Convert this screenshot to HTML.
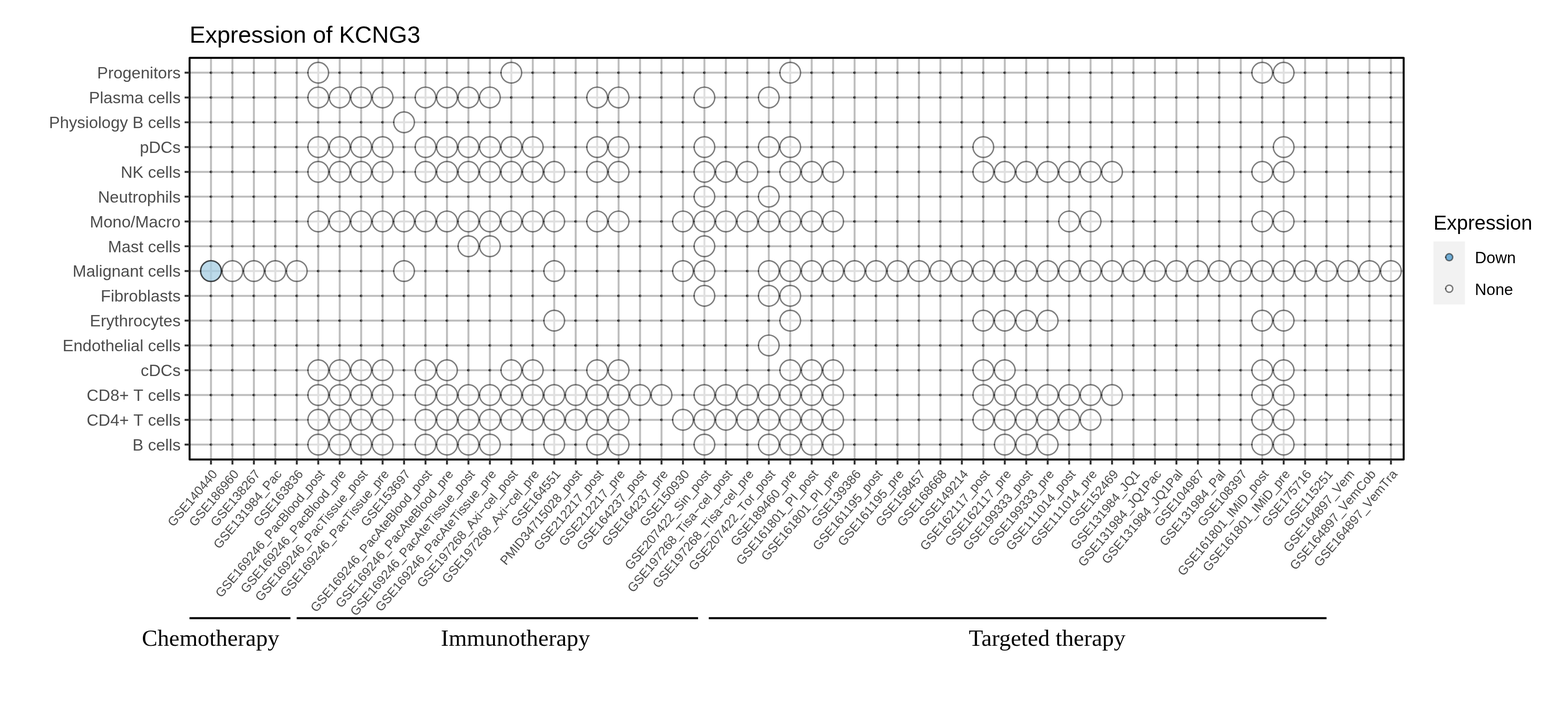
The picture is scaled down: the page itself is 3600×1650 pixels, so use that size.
<!DOCTYPE html>
<html lang="en"><head><meta charset="utf-8"><title>Expression of KCNG3</title>
<style>
html,body{margin:0;padding:0;background:#fff;}
body{width:3600px;height:1650px;overflow:hidden;}
svg{display:block;}
text{font-family:"Liberation Sans",sans-serif;font-kerning:none;}
.ser{font-family:"Liberation Serif",serif;font-size:53.6px;fill:#000;text-anchor:middle;font-kerning:normal;}
.ttl{font-size:54.17px;fill:#000;}
.yl{font-size:37.5px;fill:#4d4d4d;text-anchor:end;}
.xl{font-size:29.17px;fill:#4d4d4d;text-anchor:end;}
.lt{font-size:45.83px;fill:#000;}
.ll{font-size:36.67px;fill:#000;}
.g{stroke:#bebebe;stroke-width:4.45;fill:none;}
.tk{stroke:#333;stroke-width:4.45;fill:none;}
.b{fill:#fff;fill-opacity:.5;stroke:#000;stroke-opacity:0.5;stroke-width:3.2;}
.s{fill:#000;fill-opacity:0.5;}
.k{fill:#000;fill-opacity:0.55;}
</style></head><body>
<svg width="3600" height="1650" viewBox="0 0 3600 1650">
<rect width="3600" height="1650" fill="#fff"/>
<text class="ttl" x="435.3" y="98.2">Expression of KCNG3</text>
<g class="g">
<path d="M435.3 166.8H3222.7M435.3 223.7H3222.7M435.3 280.6H3222.7M435.3 337.5H3222.7M435.3 394.4H3222.7M435.3 451.3H3222.7M435.3 508.2H3222.7M435.3 565.1H3222.7M435.3 622H3222.7M435.3 678.9H3222.7M435.3 735.8H3222.7M435.3 792.7H3222.7M435.3 849.6H3222.7M435.3 906.5H3222.7M435.3 963.4H3222.7M435.3 1020.3H3222.7"/>
<path d="M484.4 132.75V1054.6M533.66 132.75V1054.6M582.91 132.75V1054.6M632.17 132.75V1054.6M681.43 132.75V1054.6M730.68 132.75V1054.6M779.94 132.75V1054.6M829.19 132.75V1054.6M878.45 132.75V1054.6M927.71 132.75V1054.6M976.96 132.75V1054.6M1026.22 132.75V1054.6M1075.48 132.75V1054.6M1124.73 132.75V1054.6M1173.99 132.75V1054.6M1223.25 132.75V1054.6M1272.5 132.75V1054.6M1321.76 132.75V1054.6M1371.01 132.75V1054.6M1420.27 132.75V1054.6M1469.53 132.75V1054.6M1518.78 132.75V1054.6M1568.04 132.75V1054.6M1617.3 132.75V1054.6M1666.55 132.75V1054.6M1715.81 132.75V1054.6M1765.07 132.75V1054.6M1814.32 132.75V1054.6M1863.58 132.75V1054.6M1912.83 132.75V1054.6M1962.09 132.75V1054.6M2011.35 132.75V1054.6M2060.6 132.75V1054.6M2109.86 132.75V1054.6M2159.12 132.75V1054.6M2208.37 132.75V1054.6M2257.63 132.75V1054.6M2306.89 132.75V1054.6M2356.14 132.75V1054.6M2405.4 132.75V1054.6M2454.65 132.75V1054.6M2503.91 132.75V1054.6M2553.17 132.75V1054.6M2602.42 132.75V1054.6M2651.68 132.75V1054.6M2700.94 132.75V1054.6M2750.19 132.75V1054.6M2799.45 132.75V1054.6M2848.71 132.75V1054.6M2897.96 132.75V1054.6M2947.22 132.75V1054.6M2996.47 132.75V1054.6M3045.73 132.75V1054.6M3094.99 132.75V1054.6M3144.24 132.75V1054.6M3193.5 132.75V1054.6"/>
</g>
<g>
<circle class="s" cx="484.4" cy="166.8" r="3.1"/>
<circle class="k" cx="482.92" cy="166.8" r="1.9"/>
<circle class="s" cx="533.66" cy="166.8" r="3.1"/>
<circle class="k" cx="532.18" cy="166.8" r="1.9"/>
<circle class="s" cx="582.91" cy="166.8" r="3.1"/>
<circle class="k" cx="581.43" cy="166.8" r="1.9"/>
<circle class="s" cx="632.17" cy="166.8" r="3.1"/>
<circle class="k" cx="630.69" cy="166.8" r="1.9"/>
<circle class="s" cx="681.43" cy="166.8" r="3.1"/>
<circle class="k" cx="679.95" cy="166.8" r="1.9"/>
<circle class="b" cx="730.68" cy="166.8" r="23.7"/>
<circle class="k" cx="706.98" cy="166.8" r="1.6"/>
<circle class="s" cx="779.94" cy="166.8" r="3.1"/>
<circle class="k" cx="778.46" cy="166.8" r="1.9"/>
<circle class="s" cx="829.19" cy="166.8" r="3.1"/>
<circle class="k" cx="827.71" cy="166.8" r="1.9"/>
<circle class="s" cx="878.45" cy="166.8" r="3.1"/>
<circle class="k" cx="876.97" cy="166.8" r="1.9"/>
<circle class="s" cx="927.71" cy="166.8" r="3.1"/>
<circle class="k" cx="926.23" cy="166.8" r="1.9"/>
<circle class="s" cx="976.96" cy="166.8" r="3.1"/>
<circle class="k" cx="975.48" cy="166.8" r="1.9"/>
<circle class="s" cx="1026.22" cy="166.8" r="3.1"/>
<circle class="k" cx="1024.74" cy="166.8" r="1.9"/>
<circle class="s" cx="1075.48" cy="166.8" r="3.1"/>
<circle class="k" cx="1074" cy="166.8" r="1.9"/>
<circle class="s" cx="1124.73" cy="166.8" r="3.1"/>
<circle class="k" cx="1123.25" cy="166.8" r="1.9"/>
<circle class="b" cx="1173.99" cy="166.8" r="23.7"/>
<circle class="k" cx="1150.29" cy="166.8" r="1.6"/>
<circle class="s" cx="1223.25" cy="166.8" r="3.1"/>
<circle class="k" cx="1221.77" cy="166.8" r="1.9"/>
<circle class="s" cx="1272.5" cy="166.8" r="3.1"/>
<circle class="k" cx="1271.02" cy="166.8" r="1.9"/>
<circle class="s" cx="1321.76" cy="166.8" r="3.1"/>
<circle class="k" cx="1320.28" cy="166.8" r="1.9"/>
<circle class="s" cx="1371.01" cy="166.8" r="3.1"/>
<circle class="k" cx="1369.53" cy="166.8" r="1.9"/>
<circle class="s" cx="1420.27" cy="166.8" r="3.1"/>
<circle class="k" cx="1418.79" cy="166.8" r="1.9"/>
<circle class="s" cx="1469.53" cy="166.8" r="3.1"/>
<circle class="k" cx="1468.05" cy="166.8" r="1.9"/>
<circle class="s" cx="1518.78" cy="166.8" r="3.1"/>
<circle class="k" cx="1517.3" cy="166.8" r="1.9"/>
<circle class="s" cx="1568.04" cy="166.8" r="3.1"/>
<circle class="k" cx="1566.56" cy="166.8" r="1.9"/>
<circle class="s" cx="1617.3" cy="166.8" r="3.1"/>
<circle class="k" cx="1615.82" cy="166.8" r="1.9"/>
<circle class="s" cx="1666.55" cy="166.8" r="3.1"/>
<circle class="k" cx="1665.07" cy="166.8" r="1.9"/>
<circle class="s" cx="1715.81" cy="166.8" r="3.1"/>
<circle class="k" cx="1714.33" cy="166.8" r="1.9"/>
<circle class="s" cx="1765.07" cy="166.8" r="3.1"/>
<circle class="k" cx="1763.59" cy="166.8" r="1.9"/>
<circle class="b" cx="1814.32" cy="166.8" r="23.7"/>
<circle class="k" cx="1790.62" cy="166.8" r="1.6"/>
<circle class="s" cx="1863.58" cy="166.8" r="3.1"/>
<circle class="k" cx="1862.1" cy="166.8" r="1.9"/>
<circle class="s" cx="1912.83" cy="166.8" r="3.1"/>
<circle class="k" cx="1911.35" cy="166.8" r="1.9"/>
<circle class="s" cx="1962.09" cy="166.8" r="3.1"/>
<circle class="k" cx="1960.61" cy="166.8" r="1.9"/>
<circle class="s" cx="2011.35" cy="166.8" r="3.1"/>
<circle class="k" cx="2009.87" cy="166.8" r="1.9"/>
<circle class="s" cx="2060.6" cy="166.8" r="3.1"/>
<circle class="k" cx="2059.12" cy="166.8" r="1.9"/>
<circle class="s" cx="2109.86" cy="166.8" r="3.1"/>
<circle class="k" cx="2108.38" cy="166.8" r="1.9"/>
<circle class="s" cx="2159.12" cy="166.8" r="3.1"/>
<circle class="k" cx="2157.64" cy="166.8" r="1.9"/>
<circle class="s" cx="2208.37" cy="166.8" r="3.1"/>
<circle class="k" cx="2206.89" cy="166.8" r="1.9"/>
<circle class="s" cx="2257.63" cy="166.8" r="3.1"/>
<circle class="k" cx="2256.15" cy="166.8" r="1.9"/>
<circle class="s" cx="2306.89" cy="166.8" r="3.1"/>
<circle class="k" cx="2305.41" cy="166.8" r="1.9"/>
<circle class="s" cx="2356.14" cy="166.8" r="3.1"/>
<circle class="k" cx="2354.66" cy="166.8" r="1.9"/>
<circle class="s" cx="2405.4" cy="166.8" r="3.1"/>
<circle class="k" cx="2403.92" cy="166.8" r="1.9"/>
<circle class="s" cx="2454.65" cy="166.8" r="3.1"/>
<circle class="k" cx="2453.17" cy="166.8" r="1.9"/>
<circle class="s" cx="2503.91" cy="166.8" r="3.1"/>
<circle class="k" cx="2502.43" cy="166.8" r="1.9"/>
<circle class="s" cx="2553.17" cy="166.8" r="3.1"/>
<circle class="k" cx="2551.69" cy="166.8" r="1.9"/>
<circle class="s" cx="2602.42" cy="166.8" r="3.1"/>
<circle class="k" cx="2600.94" cy="166.8" r="1.9"/>
<circle class="s" cx="2651.68" cy="166.8" r="3.1"/>
<circle class="k" cx="2650.2" cy="166.8" r="1.9"/>
<circle class="s" cx="2700.94" cy="166.8" r="3.1"/>
<circle class="k" cx="2699.46" cy="166.8" r="1.9"/>
<circle class="s" cx="2750.19" cy="166.8" r="3.1"/>
<circle class="k" cx="2748.71" cy="166.8" r="1.9"/>
<circle class="s" cx="2799.45" cy="166.8" r="3.1"/>
<circle class="k" cx="2797.97" cy="166.8" r="1.9"/>
<circle class="s" cx="2848.71" cy="166.8" r="3.1"/>
<circle class="k" cx="2847.23" cy="166.8" r="1.9"/>
<circle class="b" cx="2897.96" cy="166.8" r="23.7"/>
<circle class="k" cx="2874.26" cy="166.8" r="1.6"/>
<circle class="b" cx="2947.22" cy="166.8" r="23.7"/>
<circle class="k" cx="2923.52" cy="166.8" r="1.6"/>
<circle class="s" cx="2996.47" cy="166.8" r="3.1"/>
<circle class="k" cx="2994.99" cy="166.8" r="1.9"/>
<circle class="s" cx="3045.73" cy="166.8" r="3.1"/>
<circle class="k" cx="3044.25" cy="166.8" r="1.9"/>
<circle class="s" cx="3094.99" cy="166.8" r="3.1"/>
<circle class="k" cx="3093.51" cy="166.8" r="1.9"/>
<circle class="s" cx="3144.24" cy="166.8" r="3.1"/>
<circle class="k" cx="3142.76" cy="166.8" r="1.9"/>
<circle class="s" cx="3193.5" cy="166.8" r="3.1"/>
<circle class="k" cx="3192.02" cy="166.8" r="1.9"/>
<circle class="s" cx="484.4" cy="223.7" r="3.1"/>
<circle class="k" cx="482.92" cy="223.7" r="1.9"/>
<circle class="s" cx="533.66" cy="223.7" r="3.1"/>
<circle class="k" cx="532.18" cy="223.7" r="1.9"/>
<circle class="s" cx="582.91" cy="223.7" r="3.1"/>
<circle class="k" cx="581.43" cy="223.7" r="1.9"/>
<circle class="s" cx="632.17" cy="223.7" r="3.1"/>
<circle class="k" cx="630.69" cy="223.7" r="1.9"/>
<circle class="s" cx="681.43" cy="223.7" r="3.1"/>
<circle class="k" cx="679.95" cy="223.7" r="1.9"/>
<circle class="b" cx="730.68" cy="223.7" r="23.7"/>
<circle class="k" cx="706.98" cy="223.7" r="1.6"/>
<circle class="b" cx="779.94" cy="223.7" r="23.7"/>
<circle class="k" cx="756.24" cy="223.7" r="1.6"/>
<circle class="b" cx="829.19" cy="223.7" r="23.7"/>
<circle class="k" cx="805.49" cy="223.7" r="1.6"/>
<circle class="b" cx="878.45" cy="223.7" r="23.7"/>
<circle class="k" cx="854.75" cy="223.7" r="1.6"/>
<circle class="s" cx="927.71" cy="223.7" r="3.1"/>
<circle class="k" cx="926.23" cy="223.7" r="1.9"/>
<circle class="b" cx="976.96" cy="223.7" r="23.7"/>
<circle class="k" cx="953.26" cy="223.7" r="1.6"/>
<circle class="b" cx="1026.22" cy="223.7" r="23.7"/>
<circle class="k" cx="1002.52" cy="223.7" r="1.6"/>
<circle class="b" cx="1075.48" cy="223.7" r="23.7"/>
<circle class="k" cx="1051.78" cy="223.7" r="1.6"/>
<circle class="b" cx="1124.73" cy="223.7" r="23.7"/>
<circle class="k" cx="1101.03" cy="223.7" r="1.6"/>
<circle class="s" cx="1173.99" cy="223.7" r="3.1"/>
<circle class="k" cx="1172.51" cy="223.7" r="1.9"/>
<circle class="s" cx="1223.25" cy="223.7" r="3.1"/>
<circle class="k" cx="1221.77" cy="223.7" r="1.9"/>
<circle class="s" cx="1272.5" cy="223.7" r="3.1"/>
<circle class="k" cx="1271.02" cy="223.7" r="1.9"/>
<circle class="s" cx="1321.76" cy="223.7" r="3.1"/>
<circle class="k" cx="1320.28" cy="223.7" r="1.9"/>
<circle class="b" cx="1371.01" cy="223.7" r="23.7"/>
<circle class="k" cx="1347.31" cy="223.7" r="1.6"/>
<circle class="b" cx="1420.27" cy="223.7" r="23.7"/>
<circle class="k" cx="1396.57" cy="223.7" r="1.6"/>
<circle class="s" cx="1469.53" cy="223.7" r="3.1"/>
<circle class="k" cx="1468.05" cy="223.7" r="1.9"/>
<circle class="s" cx="1518.78" cy="223.7" r="3.1"/>
<circle class="k" cx="1517.3" cy="223.7" r="1.9"/>
<circle class="s" cx="1568.04" cy="223.7" r="3.1"/>
<circle class="k" cx="1566.56" cy="223.7" r="1.9"/>
<circle class="b" cx="1617.3" cy="223.7" r="23.7"/>
<circle class="k" cx="1593.6" cy="223.7" r="1.6"/>
<circle class="s" cx="1666.55" cy="223.7" r="3.1"/>
<circle class="k" cx="1665.07" cy="223.7" r="1.9"/>
<circle class="s" cx="1715.81" cy="223.7" r="3.1"/>
<circle class="k" cx="1714.33" cy="223.7" r="1.9"/>
<circle class="b" cx="1765.07" cy="223.7" r="23.7"/>
<circle class="k" cx="1741.37" cy="223.7" r="1.6"/>
<circle class="s" cx="1814.32" cy="223.7" r="3.1"/>
<circle class="k" cx="1812.84" cy="223.7" r="1.9"/>
<circle class="s" cx="1863.58" cy="223.7" r="3.1"/>
<circle class="k" cx="1862.1" cy="223.7" r="1.9"/>
<circle class="s" cx="1912.83" cy="223.7" r="3.1"/>
<circle class="k" cx="1911.35" cy="223.7" r="1.9"/>
<circle class="s" cx="1962.09" cy="223.7" r="3.1"/>
<circle class="k" cx="1960.61" cy="223.7" r="1.9"/>
<circle class="s" cx="2011.35" cy="223.7" r="3.1"/>
<circle class="k" cx="2009.87" cy="223.7" r="1.9"/>
<circle class="s" cx="2060.6" cy="223.7" r="3.1"/>
<circle class="k" cx="2059.12" cy="223.7" r="1.9"/>
<circle class="s" cx="2109.86" cy="223.7" r="3.1"/>
<circle class="k" cx="2108.38" cy="223.7" r="1.9"/>
<circle class="s" cx="2159.12" cy="223.7" r="3.1"/>
<circle class="k" cx="2157.64" cy="223.7" r="1.9"/>
<circle class="s" cx="2208.37" cy="223.7" r="3.1"/>
<circle class="k" cx="2206.89" cy="223.7" r="1.9"/>
<circle class="s" cx="2257.63" cy="223.7" r="3.1"/>
<circle class="k" cx="2256.15" cy="223.7" r="1.9"/>
<circle class="s" cx="2306.89" cy="223.7" r="3.1"/>
<circle class="k" cx="2305.41" cy="223.7" r="1.9"/>
<circle class="s" cx="2356.14" cy="223.7" r="3.1"/>
<circle class="k" cx="2354.66" cy="223.7" r="1.9"/>
<circle class="s" cx="2405.4" cy="223.7" r="3.1"/>
<circle class="k" cx="2403.92" cy="223.7" r="1.9"/>
<circle class="s" cx="2454.65" cy="223.7" r="3.1"/>
<circle class="k" cx="2453.17" cy="223.7" r="1.9"/>
<circle class="s" cx="2503.91" cy="223.7" r="3.1"/>
<circle class="k" cx="2502.43" cy="223.7" r="1.9"/>
<circle class="s" cx="2553.17" cy="223.7" r="3.1"/>
<circle class="k" cx="2551.69" cy="223.7" r="1.9"/>
<circle class="s" cx="2602.42" cy="223.7" r="3.1"/>
<circle class="k" cx="2600.94" cy="223.7" r="1.9"/>
<circle class="s" cx="2651.68" cy="223.7" r="3.1"/>
<circle class="k" cx="2650.2" cy="223.7" r="1.9"/>
<circle class="s" cx="2700.94" cy="223.7" r="3.1"/>
<circle class="k" cx="2699.46" cy="223.7" r="1.9"/>
<circle class="s" cx="2750.19" cy="223.7" r="3.1"/>
<circle class="k" cx="2748.71" cy="223.7" r="1.9"/>
<circle class="s" cx="2799.45" cy="223.7" r="3.1"/>
<circle class="k" cx="2797.97" cy="223.7" r="1.9"/>
<circle class="s" cx="2848.71" cy="223.7" r="3.1"/>
<circle class="k" cx="2847.23" cy="223.7" r="1.9"/>
<circle class="s" cx="2897.96" cy="223.7" r="3.1"/>
<circle class="k" cx="2896.48" cy="223.7" r="1.9"/>
<circle class="s" cx="2947.22" cy="223.7" r="3.1"/>
<circle class="k" cx="2945.74" cy="223.7" r="1.9"/>
<circle class="s" cx="2996.47" cy="223.7" r="3.1"/>
<circle class="k" cx="2994.99" cy="223.7" r="1.9"/>
<circle class="s" cx="3045.73" cy="223.7" r="3.1"/>
<circle class="k" cx="3044.25" cy="223.7" r="1.9"/>
<circle class="s" cx="3094.99" cy="223.7" r="3.1"/>
<circle class="k" cx="3093.51" cy="223.7" r="1.9"/>
<circle class="s" cx="3144.24" cy="223.7" r="3.1"/>
<circle class="k" cx="3142.76" cy="223.7" r="1.9"/>
<circle class="s" cx="3193.5" cy="223.7" r="3.1"/>
<circle class="k" cx="3192.02" cy="223.7" r="1.9"/>
<circle class="s" cx="484.4" cy="280.6" r="3.1"/>
<circle class="k" cx="482.92" cy="280.6" r="1.9"/>
<circle class="s" cx="533.66" cy="280.6" r="3.1"/>
<circle class="k" cx="532.18" cy="280.6" r="1.9"/>
<circle class="s" cx="582.91" cy="280.6" r="3.1"/>
<circle class="k" cx="581.43" cy="280.6" r="1.9"/>
<circle class="s" cx="632.17" cy="280.6" r="3.1"/>
<circle class="k" cx="630.69" cy="280.6" r="1.9"/>
<circle class="s" cx="681.43" cy="280.6" r="3.1"/>
<circle class="k" cx="679.95" cy="280.6" r="1.9"/>
<circle class="s" cx="730.68" cy="280.6" r="3.1"/>
<circle class="k" cx="729.2" cy="280.6" r="1.9"/>
<circle class="s" cx="779.94" cy="280.6" r="3.1"/>
<circle class="k" cx="778.46" cy="280.6" r="1.9"/>
<circle class="s" cx="829.19" cy="280.6" r="3.1"/>
<circle class="k" cx="827.71" cy="280.6" r="1.9"/>
<circle class="s" cx="878.45" cy="280.6" r="3.1"/>
<circle class="k" cx="876.97" cy="280.6" r="1.9"/>
<circle class="b" cx="927.71" cy="280.6" r="23.7"/>
<circle class="k" cx="904.01" cy="280.6" r="1.6"/>
<circle class="s" cx="976.96" cy="280.6" r="3.1"/>
<circle class="k" cx="975.48" cy="280.6" r="1.9"/>
<circle class="s" cx="1026.22" cy="280.6" r="3.1"/>
<circle class="k" cx="1024.74" cy="280.6" r="1.9"/>
<circle class="s" cx="1075.48" cy="280.6" r="3.1"/>
<circle class="k" cx="1074" cy="280.6" r="1.9"/>
<circle class="s" cx="1124.73" cy="280.6" r="3.1"/>
<circle class="k" cx="1123.25" cy="280.6" r="1.9"/>
<circle class="s" cx="1173.99" cy="280.6" r="3.1"/>
<circle class="k" cx="1172.51" cy="280.6" r="1.9"/>
<circle class="s" cx="1223.25" cy="280.6" r="3.1"/>
<circle class="k" cx="1221.77" cy="280.6" r="1.9"/>
<circle class="s" cx="1272.5" cy="280.6" r="3.1"/>
<circle class="k" cx="1271.02" cy="280.6" r="1.9"/>
<circle class="s" cx="1321.76" cy="280.6" r="3.1"/>
<circle class="k" cx="1320.28" cy="280.6" r="1.9"/>
<circle class="s" cx="1371.01" cy="280.6" r="3.1"/>
<circle class="k" cx="1369.53" cy="280.6" r="1.9"/>
<circle class="s" cx="1420.27" cy="280.6" r="3.1"/>
<circle class="k" cx="1418.79" cy="280.6" r="1.9"/>
<circle class="s" cx="1469.53" cy="280.6" r="3.1"/>
<circle class="k" cx="1468.05" cy="280.6" r="1.9"/>
<circle class="s" cx="1518.78" cy="280.6" r="3.1"/>
<circle class="k" cx="1517.3" cy="280.6" r="1.9"/>
<circle class="s" cx="1568.04" cy="280.6" r="3.1"/>
<circle class="k" cx="1566.56" cy="280.6" r="1.9"/>
<circle class="s" cx="1617.3" cy="280.6" r="3.1"/>
<circle class="k" cx="1615.82" cy="280.6" r="1.9"/>
<circle class="s" cx="1666.55" cy="280.6" r="3.1"/>
<circle class="k" cx="1665.07" cy="280.6" r="1.9"/>
<circle class="s" cx="1715.81" cy="280.6" r="3.1"/>
<circle class="k" cx="1714.33" cy="280.6" r="1.9"/>
<circle class="s" cx="1765.07" cy="280.6" r="3.1"/>
<circle class="k" cx="1763.59" cy="280.6" r="1.9"/>
<circle class="s" cx="1814.32" cy="280.6" r="3.1"/>
<circle class="k" cx="1812.84" cy="280.6" r="1.9"/>
<circle class="s" cx="1863.58" cy="280.6" r="3.1"/>
<circle class="k" cx="1862.1" cy="280.6" r="1.9"/>
<circle class="s" cx="1912.83" cy="280.6" r="3.1"/>
<circle class="k" cx="1911.35" cy="280.6" r="1.9"/>
<circle class="s" cx="1962.09" cy="280.6" r="3.1"/>
<circle class="k" cx="1960.61" cy="280.6" r="1.9"/>
<circle class="s" cx="2011.35" cy="280.6" r="3.1"/>
<circle class="k" cx="2009.87" cy="280.6" r="1.9"/>
<circle class="s" cx="2060.6" cy="280.6" r="3.1"/>
<circle class="k" cx="2059.12" cy="280.6" r="1.9"/>
<circle class="s" cx="2109.86" cy="280.6" r="3.1"/>
<circle class="k" cx="2108.38" cy="280.6" r="1.9"/>
<circle class="s" cx="2159.12" cy="280.6" r="3.1"/>
<circle class="k" cx="2157.64" cy="280.6" r="1.9"/>
<circle class="s" cx="2208.37" cy="280.6" r="3.1"/>
<circle class="k" cx="2206.89" cy="280.6" r="1.9"/>
<circle class="s" cx="2257.63" cy="280.6" r="3.1"/>
<circle class="k" cx="2256.15" cy="280.6" r="1.9"/>
<circle class="s" cx="2306.89" cy="280.6" r="3.1"/>
<circle class="k" cx="2305.41" cy="280.6" r="1.9"/>
<circle class="s" cx="2356.14" cy="280.6" r="3.1"/>
<circle class="k" cx="2354.66" cy="280.6" r="1.9"/>
<circle class="s" cx="2405.4" cy="280.6" r="3.1"/>
<circle class="k" cx="2403.92" cy="280.6" r="1.9"/>
<circle class="s" cx="2454.65" cy="280.6" r="3.1"/>
<circle class="k" cx="2453.17" cy="280.6" r="1.9"/>
<circle class="s" cx="2503.91" cy="280.6" r="3.1"/>
<circle class="k" cx="2502.43" cy="280.6" r="1.9"/>
<circle class="s" cx="2553.17" cy="280.6" r="3.1"/>
<circle class="k" cx="2551.69" cy="280.6" r="1.9"/>
<circle class="s" cx="2602.42" cy="280.6" r="3.1"/>
<circle class="k" cx="2600.94" cy="280.6" r="1.9"/>
<circle class="s" cx="2651.68" cy="280.6" r="3.1"/>
<circle class="k" cx="2650.2" cy="280.6" r="1.9"/>
<circle class="s" cx="2700.94" cy="280.6" r="3.1"/>
<circle class="k" cx="2699.46" cy="280.6" r="1.9"/>
<circle class="s" cx="2750.19" cy="280.6" r="3.1"/>
<circle class="k" cx="2748.71" cy="280.6" r="1.9"/>
<circle class="s" cx="2799.45" cy="280.6" r="3.1"/>
<circle class="k" cx="2797.97" cy="280.6" r="1.9"/>
<circle class="s" cx="2848.71" cy="280.6" r="3.1"/>
<circle class="k" cx="2847.23" cy="280.6" r="1.9"/>
<circle class="s" cx="2897.96" cy="280.6" r="3.1"/>
<circle class="k" cx="2896.48" cy="280.6" r="1.9"/>
<circle class="s" cx="2947.22" cy="280.6" r="3.1"/>
<circle class="k" cx="2945.74" cy="280.6" r="1.9"/>
<circle class="s" cx="2996.47" cy="280.6" r="3.1"/>
<circle class="k" cx="2994.99" cy="280.6" r="1.9"/>
<circle class="s" cx="3045.73" cy="280.6" r="3.1"/>
<circle class="k" cx="3044.25" cy="280.6" r="1.9"/>
<circle class="s" cx="3094.99" cy="280.6" r="3.1"/>
<circle class="k" cx="3093.51" cy="280.6" r="1.9"/>
<circle class="s" cx="3144.24" cy="280.6" r="3.1"/>
<circle class="k" cx="3142.76" cy="280.6" r="1.9"/>
<circle class="s" cx="3193.5" cy="280.6" r="3.1"/>
<circle class="k" cx="3192.02" cy="280.6" r="1.9"/>
<circle class="s" cx="484.4" cy="337.5" r="3.1"/>
<circle class="k" cx="482.92" cy="337.5" r="1.9"/>
<circle class="s" cx="533.66" cy="337.5" r="3.1"/>
<circle class="k" cx="532.18" cy="337.5" r="1.9"/>
<circle class="s" cx="582.91" cy="337.5" r="3.1"/>
<circle class="k" cx="581.43" cy="337.5" r="1.9"/>
<circle class="s" cx="632.17" cy="337.5" r="3.1"/>
<circle class="k" cx="630.69" cy="337.5" r="1.9"/>
<circle class="s" cx="681.43" cy="337.5" r="3.1"/>
<circle class="k" cx="679.95" cy="337.5" r="1.9"/>
<circle class="b" cx="730.68" cy="337.5" r="23.7"/>
<circle class="k" cx="706.98" cy="337.5" r="1.6"/>
<circle class="b" cx="779.94" cy="337.5" r="23.7"/>
<circle class="k" cx="756.24" cy="337.5" r="1.6"/>
<circle class="b" cx="829.19" cy="337.5" r="23.7"/>
<circle class="k" cx="805.49" cy="337.5" r="1.6"/>
<circle class="b" cx="878.45" cy="337.5" r="23.7"/>
<circle class="k" cx="854.75" cy="337.5" r="1.6"/>
<circle class="s" cx="927.71" cy="337.5" r="3.1"/>
<circle class="k" cx="926.23" cy="337.5" r="1.9"/>
<circle class="b" cx="976.96" cy="337.5" r="23.7"/>
<circle class="k" cx="953.26" cy="337.5" r="1.6"/>
<circle class="b" cx="1026.22" cy="337.5" r="23.7"/>
<circle class="k" cx="1002.52" cy="337.5" r="1.6"/>
<circle class="b" cx="1075.48" cy="337.5" r="23.7"/>
<circle class="k" cx="1051.78" cy="337.5" r="1.6"/>
<circle class="b" cx="1124.73" cy="337.5" r="23.7"/>
<circle class="k" cx="1101.03" cy="337.5" r="1.6"/>
<circle class="b" cx="1173.99" cy="337.5" r="23.7"/>
<circle class="k" cx="1150.29" cy="337.5" r="1.6"/>
<circle class="b" cx="1223.25" cy="337.5" r="23.7"/>
<circle class="k" cx="1199.55" cy="337.5" r="1.6"/>
<circle class="s" cx="1272.5" cy="337.5" r="3.1"/>
<circle class="k" cx="1271.02" cy="337.5" r="1.9"/>
<circle class="s" cx="1321.76" cy="337.5" r="3.1"/>
<circle class="k" cx="1320.28" cy="337.5" r="1.9"/>
<circle class="b" cx="1371.01" cy="337.5" r="23.7"/>
<circle class="k" cx="1347.31" cy="337.5" r="1.6"/>
<circle class="b" cx="1420.27" cy="337.5" r="23.7"/>
<circle class="k" cx="1396.57" cy="337.5" r="1.6"/>
<circle class="s" cx="1469.53" cy="337.5" r="3.1"/>
<circle class="k" cx="1468.05" cy="337.5" r="1.9"/>
<circle class="s" cx="1518.78" cy="337.5" r="3.1"/>
<circle class="k" cx="1517.3" cy="337.5" r="1.9"/>
<circle class="s" cx="1568.04" cy="337.5" r="3.1"/>
<circle class="k" cx="1566.56" cy="337.5" r="1.9"/>
<circle class="b" cx="1617.3" cy="337.5" r="23.7"/>
<circle class="k" cx="1593.6" cy="337.5" r="1.6"/>
<circle class="s" cx="1666.55" cy="337.5" r="3.1"/>
<circle class="k" cx="1665.07" cy="337.5" r="1.9"/>
<circle class="s" cx="1715.81" cy="337.5" r="3.1"/>
<circle class="k" cx="1714.33" cy="337.5" r="1.9"/>
<circle class="b" cx="1765.07" cy="337.5" r="23.7"/>
<circle class="k" cx="1741.37" cy="337.5" r="1.6"/>
<circle class="b" cx="1814.32" cy="337.5" r="23.7"/>
<circle class="k" cx="1790.62" cy="337.5" r="1.6"/>
<circle class="s" cx="1863.58" cy="337.5" r="3.1"/>
<circle class="k" cx="1862.1" cy="337.5" r="1.9"/>
<circle class="s" cx="1912.83" cy="337.5" r="3.1"/>
<circle class="k" cx="1911.35" cy="337.5" r="1.9"/>
<circle class="s" cx="1962.09" cy="337.5" r="3.1"/>
<circle class="k" cx="1960.61" cy="337.5" r="1.9"/>
<circle class="s" cx="2011.35" cy="337.5" r="3.1"/>
<circle class="k" cx="2009.87" cy="337.5" r="1.9"/>
<circle class="s" cx="2060.6" cy="337.5" r="3.1"/>
<circle class="k" cx="2059.12" cy="337.5" r="1.9"/>
<circle class="s" cx="2109.86" cy="337.5" r="3.1"/>
<circle class="k" cx="2108.38" cy="337.5" r="1.9"/>
<circle class="s" cx="2159.12" cy="337.5" r="3.1"/>
<circle class="k" cx="2157.64" cy="337.5" r="1.9"/>
<circle class="s" cx="2208.37" cy="337.5" r="3.1"/>
<circle class="k" cx="2206.89" cy="337.5" r="1.9"/>
<circle class="b" cx="2257.63" cy="337.5" r="23.7"/>
<circle class="k" cx="2233.93" cy="337.5" r="1.6"/>
<circle class="s" cx="2306.89" cy="337.5" r="3.1"/>
<circle class="k" cx="2305.41" cy="337.5" r="1.9"/>
<circle class="s" cx="2356.14" cy="337.5" r="3.1"/>
<circle class="k" cx="2354.66" cy="337.5" r="1.9"/>
<circle class="s" cx="2405.4" cy="337.5" r="3.1"/>
<circle class="k" cx="2403.92" cy="337.5" r="1.9"/>
<circle class="s" cx="2454.65" cy="337.5" r="3.1"/>
<circle class="k" cx="2453.17" cy="337.5" r="1.9"/>
<circle class="s" cx="2503.91" cy="337.5" r="3.1"/>
<circle class="k" cx="2502.43" cy="337.5" r="1.9"/>
<circle class="s" cx="2553.17" cy="337.5" r="3.1"/>
<circle class="k" cx="2551.69" cy="337.5" r="1.9"/>
<circle class="s" cx="2602.42" cy="337.5" r="3.1"/>
<circle class="k" cx="2600.94" cy="337.5" r="1.9"/>
<circle class="s" cx="2651.68" cy="337.5" r="3.1"/>
<circle class="k" cx="2650.2" cy="337.5" r="1.9"/>
<circle class="s" cx="2700.94" cy="337.5" r="3.1"/>
<circle class="k" cx="2699.46" cy="337.5" r="1.9"/>
<circle class="s" cx="2750.19" cy="337.5" r="3.1"/>
<circle class="k" cx="2748.71" cy="337.5" r="1.9"/>
<circle class="s" cx="2799.45" cy="337.5" r="3.1"/>
<circle class="k" cx="2797.97" cy="337.5" r="1.9"/>
<circle class="s" cx="2848.71" cy="337.5" r="3.1"/>
<circle class="k" cx="2847.23" cy="337.5" r="1.9"/>
<circle class="s" cx="2897.96" cy="337.5" r="3.1"/>
<circle class="k" cx="2896.48" cy="337.5" r="1.9"/>
<circle class="b" cx="2947.22" cy="337.5" r="23.7"/>
<circle class="k" cx="2923.52" cy="337.5" r="1.6"/>
<circle class="s" cx="2996.47" cy="337.5" r="3.1"/>
<circle class="k" cx="2994.99" cy="337.5" r="1.9"/>
<circle class="s" cx="3045.73" cy="337.5" r="3.1"/>
<circle class="k" cx="3044.25" cy="337.5" r="1.9"/>
<circle class="s" cx="3094.99" cy="337.5" r="3.1"/>
<circle class="k" cx="3093.51" cy="337.5" r="1.9"/>
<circle class="s" cx="3144.24" cy="337.5" r="3.1"/>
<circle class="k" cx="3142.76" cy="337.5" r="1.9"/>
<circle class="s" cx="3193.5" cy="337.5" r="3.1"/>
<circle class="k" cx="3192.02" cy="337.5" r="1.9"/>
<circle class="s" cx="484.4" cy="394.4" r="3.1"/>
<circle class="k" cx="482.92" cy="394.4" r="1.9"/>
<circle class="s" cx="533.66" cy="394.4" r="3.1"/>
<circle class="k" cx="532.18" cy="394.4" r="1.9"/>
<circle class="s" cx="582.91" cy="394.4" r="3.1"/>
<circle class="k" cx="581.43" cy="394.4" r="1.9"/>
<circle class="s" cx="632.17" cy="394.4" r="3.1"/>
<circle class="k" cx="630.69" cy="394.4" r="1.9"/>
<circle class="s" cx="681.43" cy="394.4" r="3.1"/>
<circle class="k" cx="679.95" cy="394.4" r="1.9"/>
<circle class="b" cx="730.68" cy="394.4" r="23.7"/>
<circle class="k" cx="706.98" cy="394.4" r="1.6"/>
<circle class="b" cx="779.94" cy="394.4" r="23.7"/>
<circle class="k" cx="756.24" cy="394.4" r="1.6"/>
<circle class="b" cx="829.19" cy="394.4" r="23.7"/>
<circle class="k" cx="805.49" cy="394.4" r="1.6"/>
<circle class="b" cx="878.45" cy="394.4" r="23.7"/>
<circle class="k" cx="854.75" cy="394.4" r="1.6"/>
<circle class="s" cx="927.71" cy="394.4" r="3.1"/>
<circle class="k" cx="926.23" cy="394.4" r="1.9"/>
<circle class="b" cx="976.96" cy="394.4" r="23.7"/>
<circle class="k" cx="953.26" cy="394.4" r="1.6"/>
<circle class="b" cx="1026.22" cy="394.4" r="23.7"/>
<circle class="k" cx="1002.52" cy="394.4" r="1.6"/>
<circle class="b" cx="1075.48" cy="394.4" r="23.7"/>
<circle class="k" cx="1051.78" cy="394.4" r="1.6"/>
<circle class="b" cx="1124.73" cy="394.4" r="23.7"/>
<circle class="k" cx="1101.03" cy="394.4" r="1.6"/>
<circle class="b" cx="1173.99" cy="394.4" r="23.7"/>
<circle class="k" cx="1150.29" cy="394.4" r="1.6"/>
<circle class="b" cx="1223.25" cy="394.4" r="23.7"/>
<circle class="k" cx="1199.55" cy="394.4" r="1.6"/>
<circle class="b" cx="1272.5" cy="394.4" r="23.7"/>
<circle class="k" cx="1248.8" cy="394.4" r="1.6"/>
<circle class="s" cx="1321.76" cy="394.4" r="3.1"/>
<circle class="k" cx="1320.28" cy="394.4" r="1.9"/>
<circle class="b" cx="1371.01" cy="394.4" r="23.7"/>
<circle class="k" cx="1347.31" cy="394.4" r="1.6"/>
<circle class="b" cx="1420.27" cy="394.4" r="23.7"/>
<circle class="k" cx="1396.57" cy="394.4" r="1.6"/>
<circle class="s" cx="1469.53" cy="394.4" r="3.1"/>
<circle class="k" cx="1468.05" cy="394.4" r="1.9"/>
<circle class="s" cx="1518.78" cy="394.4" r="3.1"/>
<circle class="k" cx="1517.3" cy="394.4" r="1.9"/>
<circle class="s" cx="1568.04" cy="394.4" r="3.1"/>
<circle class="k" cx="1566.56" cy="394.4" r="1.9"/>
<circle class="b" cx="1617.3" cy="394.4" r="23.7"/>
<circle class="k" cx="1593.6" cy="394.4" r="1.6"/>
<circle class="b" cx="1666.55" cy="394.4" r="23.7"/>
<circle class="k" cx="1642.85" cy="394.4" r="1.6"/>
<circle class="b" cx="1715.81" cy="394.4" r="23.7"/>
<circle class="k" cx="1692.11" cy="394.4" r="1.6"/>
<circle class="s" cx="1765.07" cy="394.4" r="3.1"/>
<circle class="k" cx="1763.59" cy="394.4" r="1.9"/>
<circle class="b" cx="1814.32" cy="394.4" r="23.7"/>
<circle class="k" cx="1790.62" cy="394.4" r="1.6"/>
<circle class="b" cx="1863.58" cy="394.4" r="23.7"/>
<circle class="k" cx="1839.88" cy="394.4" r="1.6"/>
<circle class="b" cx="1912.83" cy="394.4" r="23.7"/>
<circle class="k" cx="1889.13" cy="394.4" r="1.6"/>
<circle class="s" cx="1962.09" cy="394.4" r="3.1"/>
<circle class="k" cx="1960.61" cy="394.4" r="1.9"/>
<circle class="s" cx="2011.35" cy="394.4" r="3.1"/>
<circle class="k" cx="2009.87" cy="394.4" r="1.9"/>
<circle class="s" cx="2060.6" cy="394.4" r="3.1"/>
<circle class="k" cx="2059.12" cy="394.4" r="1.9"/>
<circle class="s" cx="2109.86" cy="394.4" r="3.1"/>
<circle class="k" cx="2108.38" cy="394.4" r="1.9"/>
<circle class="s" cx="2159.12" cy="394.4" r="3.1"/>
<circle class="k" cx="2157.64" cy="394.4" r="1.9"/>
<circle class="s" cx="2208.37" cy="394.4" r="3.1"/>
<circle class="k" cx="2206.89" cy="394.4" r="1.9"/>
<circle class="b" cx="2257.63" cy="394.4" r="23.7"/>
<circle class="k" cx="2233.93" cy="394.4" r="1.6"/>
<circle class="b" cx="2306.89" cy="394.4" r="23.7"/>
<circle class="k" cx="2283.19" cy="394.4" r="1.6"/>
<circle class="b" cx="2356.14" cy="394.4" r="23.7"/>
<circle class="k" cx="2332.44" cy="394.4" r="1.6"/>
<circle class="b" cx="2405.4" cy="394.4" r="23.7"/>
<circle class="k" cx="2381.7" cy="394.4" r="1.6"/>
<circle class="b" cx="2454.65" cy="394.4" r="23.7"/>
<circle class="k" cx="2430.95" cy="394.4" r="1.6"/>
<circle class="b" cx="2503.91" cy="394.4" r="23.7"/>
<circle class="k" cx="2480.21" cy="394.4" r="1.6"/>
<circle class="b" cx="2553.17" cy="394.4" r="23.7"/>
<circle class="k" cx="2529.47" cy="394.4" r="1.6"/>
<circle class="s" cx="2602.42" cy="394.4" r="3.1"/>
<circle class="k" cx="2600.94" cy="394.4" r="1.9"/>
<circle class="s" cx="2651.68" cy="394.4" r="3.1"/>
<circle class="k" cx="2650.2" cy="394.4" r="1.9"/>
<circle class="s" cx="2700.94" cy="394.4" r="3.1"/>
<circle class="k" cx="2699.46" cy="394.4" r="1.9"/>
<circle class="s" cx="2750.19" cy="394.4" r="3.1"/>
<circle class="k" cx="2748.71" cy="394.4" r="1.9"/>
<circle class="s" cx="2799.45" cy="394.4" r="3.1"/>
<circle class="k" cx="2797.97" cy="394.4" r="1.9"/>
<circle class="s" cx="2848.71" cy="394.4" r="3.1"/>
<circle class="k" cx="2847.23" cy="394.4" r="1.9"/>
<circle class="b" cx="2897.96" cy="394.4" r="23.7"/>
<circle class="k" cx="2874.26" cy="394.4" r="1.6"/>
<circle class="b" cx="2947.22" cy="394.4" r="23.7"/>
<circle class="k" cx="2923.52" cy="394.4" r="1.6"/>
<circle class="s" cx="2996.47" cy="394.4" r="3.1"/>
<circle class="k" cx="2994.99" cy="394.4" r="1.9"/>
<circle class="s" cx="3045.73" cy="394.4" r="3.1"/>
<circle class="k" cx="3044.25" cy="394.4" r="1.9"/>
<circle class="s" cx="3094.99" cy="394.4" r="3.1"/>
<circle class="k" cx="3093.51" cy="394.4" r="1.9"/>
<circle class="s" cx="3144.24" cy="394.4" r="3.1"/>
<circle class="k" cx="3142.76" cy="394.4" r="1.9"/>
<circle class="s" cx="3193.5" cy="394.4" r="3.1"/>
<circle class="k" cx="3192.02" cy="394.4" r="1.9"/>
<circle class="s" cx="484.4" cy="451.3" r="3.1"/>
<circle class="k" cx="482.92" cy="451.3" r="1.9"/>
<circle class="s" cx="533.66" cy="451.3" r="3.1"/>
<circle class="k" cx="532.18" cy="451.3" r="1.9"/>
<circle class="s" cx="582.91" cy="451.3" r="3.1"/>
<circle class="k" cx="581.43" cy="451.3" r="1.9"/>
<circle class="s" cx="632.17" cy="451.3" r="3.1"/>
<circle class="k" cx="630.69" cy="451.3" r="1.9"/>
<circle class="s" cx="681.43" cy="451.3" r="3.1"/>
<circle class="k" cx="679.95" cy="451.3" r="1.9"/>
<circle class="s" cx="730.68" cy="451.3" r="3.1"/>
<circle class="k" cx="729.2" cy="451.3" r="1.9"/>
<circle class="s" cx="779.94" cy="451.3" r="3.1"/>
<circle class="k" cx="778.46" cy="451.3" r="1.9"/>
<circle class="s" cx="829.19" cy="451.3" r="3.1"/>
<circle class="k" cx="827.71" cy="451.3" r="1.9"/>
<circle class="s" cx="878.45" cy="451.3" r="3.1"/>
<circle class="k" cx="876.97" cy="451.3" r="1.9"/>
<circle class="s" cx="927.71" cy="451.3" r="3.1"/>
<circle class="k" cx="926.23" cy="451.3" r="1.9"/>
<circle class="s" cx="976.96" cy="451.3" r="3.1"/>
<circle class="k" cx="975.48" cy="451.3" r="1.9"/>
<circle class="s" cx="1026.22" cy="451.3" r="3.1"/>
<circle class="k" cx="1024.74" cy="451.3" r="1.9"/>
<circle class="s" cx="1075.48" cy="451.3" r="3.1"/>
<circle class="k" cx="1074" cy="451.3" r="1.9"/>
<circle class="s" cx="1124.73" cy="451.3" r="3.1"/>
<circle class="k" cx="1123.25" cy="451.3" r="1.9"/>
<circle class="s" cx="1173.99" cy="451.3" r="3.1"/>
<circle class="k" cx="1172.51" cy="451.3" r="1.9"/>
<circle class="s" cx="1223.25" cy="451.3" r="3.1"/>
<circle class="k" cx="1221.77" cy="451.3" r="1.9"/>
<circle class="s" cx="1272.5" cy="451.3" r="3.1"/>
<circle class="k" cx="1271.02" cy="451.3" r="1.9"/>
<circle class="s" cx="1321.76" cy="451.3" r="3.1"/>
<circle class="k" cx="1320.28" cy="451.3" r="1.9"/>
<circle class="s" cx="1371.01" cy="451.3" r="3.1"/>
<circle class="k" cx="1369.53" cy="451.3" r="1.9"/>
<circle class="s" cx="1420.27" cy="451.3" r="3.1"/>
<circle class="k" cx="1418.79" cy="451.3" r="1.9"/>
<circle class="s" cx="1469.53" cy="451.3" r="3.1"/>
<circle class="k" cx="1468.05" cy="451.3" r="1.9"/>
<circle class="s" cx="1518.78" cy="451.3" r="3.1"/>
<circle class="k" cx="1517.3" cy="451.3" r="1.9"/>
<circle class="s" cx="1568.04" cy="451.3" r="3.1"/>
<circle class="k" cx="1566.56" cy="451.3" r="1.9"/>
<circle class="b" cx="1617.3" cy="451.3" r="23.7"/>
<circle class="k" cx="1593.6" cy="451.3" r="1.6"/>
<circle class="s" cx="1666.55" cy="451.3" r="3.1"/>
<circle class="k" cx="1665.07" cy="451.3" r="1.9"/>
<circle class="s" cx="1715.81" cy="451.3" r="3.1"/>
<circle class="k" cx="1714.33" cy="451.3" r="1.9"/>
<circle class="b" cx="1765.07" cy="451.3" r="23.7"/>
<circle class="k" cx="1741.37" cy="451.3" r="1.6"/>
<circle class="s" cx="1814.32" cy="451.3" r="3.1"/>
<circle class="k" cx="1812.84" cy="451.3" r="1.9"/>
<circle class="s" cx="1863.58" cy="451.3" r="3.1"/>
<circle class="k" cx="1862.1" cy="451.3" r="1.9"/>
<circle class="s" cx="1912.83" cy="451.3" r="3.1"/>
<circle class="k" cx="1911.35" cy="451.3" r="1.9"/>
<circle class="s" cx="1962.09" cy="451.3" r="3.1"/>
<circle class="k" cx="1960.61" cy="451.3" r="1.9"/>
<circle class="s" cx="2011.35" cy="451.3" r="3.1"/>
<circle class="k" cx="2009.87" cy="451.3" r="1.9"/>
<circle class="s" cx="2060.6" cy="451.3" r="3.1"/>
<circle class="k" cx="2059.12" cy="451.3" r="1.9"/>
<circle class="s" cx="2109.86" cy="451.3" r="3.1"/>
<circle class="k" cx="2108.38" cy="451.3" r="1.9"/>
<circle class="s" cx="2159.12" cy="451.3" r="3.1"/>
<circle class="k" cx="2157.64" cy="451.3" r="1.9"/>
<circle class="s" cx="2208.37" cy="451.3" r="3.1"/>
<circle class="k" cx="2206.89" cy="451.3" r="1.9"/>
<circle class="s" cx="2257.63" cy="451.3" r="3.1"/>
<circle class="k" cx="2256.15" cy="451.3" r="1.9"/>
<circle class="s" cx="2306.89" cy="451.3" r="3.1"/>
<circle class="k" cx="2305.41" cy="451.3" r="1.9"/>
<circle class="s" cx="2356.14" cy="451.3" r="3.1"/>
<circle class="k" cx="2354.66" cy="451.3" r="1.9"/>
<circle class="s" cx="2405.4" cy="451.3" r="3.1"/>
<circle class="k" cx="2403.92" cy="451.3" r="1.9"/>
<circle class="s" cx="2454.65" cy="451.3" r="3.1"/>
<circle class="k" cx="2453.17" cy="451.3" r="1.9"/>
<circle class="s" cx="2503.91" cy="451.3" r="3.1"/>
<circle class="k" cx="2502.43" cy="451.3" r="1.9"/>
<circle class="s" cx="2553.17" cy="451.3" r="3.1"/>
<circle class="k" cx="2551.69" cy="451.3" r="1.9"/>
<circle class="s" cx="2602.42" cy="451.3" r="3.1"/>
<circle class="k" cx="2600.94" cy="451.3" r="1.9"/>
<circle class="s" cx="2651.68" cy="451.3" r="3.1"/>
<circle class="k" cx="2650.2" cy="451.3" r="1.9"/>
<circle class="s" cx="2700.94" cy="451.3" r="3.1"/>
<circle class="k" cx="2699.46" cy="451.3" r="1.9"/>
<circle class="s" cx="2750.19" cy="451.3" r="3.1"/>
<circle class="k" cx="2748.71" cy="451.3" r="1.9"/>
<circle class="s" cx="2799.45" cy="451.3" r="3.1"/>
<circle class="k" cx="2797.97" cy="451.3" r="1.9"/>
<circle class="s" cx="2848.71" cy="451.3" r="3.1"/>
<circle class="k" cx="2847.23" cy="451.3" r="1.9"/>
<circle class="s" cx="2897.96" cy="451.3" r="3.1"/>
<circle class="k" cx="2896.48" cy="451.3" r="1.9"/>
<circle class="s" cx="2947.22" cy="451.3" r="3.1"/>
<circle class="k" cx="2945.74" cy="451.3" r="1.9"/>
<circle class="s" cx="2996.47" cy="451.3" r="3.1"/>
<circle class="k" cx="2994.99" cy="451.3" r="1.9"/>
<circle class="s" cx="3045.73" cy="451.3" r="3.1"/>
<circle class="k" cx="3044.25" cy="451.3" r="1.9"/>
<circle class="s" cx="3094.99" cy="451.3" r="3.1"/>
<circle class="k" cx="3093.51" cy="451.3" r="1.9"/>
<circle class="s" cx="3144.24" cy="451.3" r="3.1"/>
<circle class="k" cx="3142.76" cy="451.3" r="1.9"/>
<circle class="s" cx="3193.5" cy="451.3" r="3.1"/>
<circle class="k" cx="3192.02" cy="451.3" r="1.9"/>
<circle class="s" cx="484.4" cy="508.2" r="3.1"/>
<circle class="k" cx="482.92" cy="508.2" r="1.9"/>
<circle class="s" cx="533.66" cy="508.2" r="3.1"/>
<circle class="k" cx="532.18" cy="508.2" r="1.9"/>
<circle class="s" cx="582.91" cy="508.2" r="3.1"/>
<circle class="k" cx="581.43" cy="508.2" r="1.9"/>
<circle class="s" cx="632.17" cy="508.2" r="3.1"/>
<circle class="k" cx="630.69" cy="508.2" r="1.9"/>
<circle class="s" cx="681.43" cy="508.2" r="3.1"/>
<circle class="k" cx="679.95" cy="508.2" r="1.9"/>
<circle class="b" cx="730.68" cy="508.2" r="23.7"/>
<circle class="k" cx="706.98" cy="508.2" r="1.6"/>
<circle class="b" cx="779.94" cy="508.2" r="23.7"/>
<circle class="k" cx="756.24" cy="508.2" r="1.6"/>
<circle class="b" cx="829.19" cy="508.2" r="23.7"/>
<circle class="k" cx="805.49" cy="508.2" r="1.6"/>
<circle class="b" cx="878.45" cy="508.2" r="23.7"/>
<circle class="k" cx="854.75" cy="508.2" r="1.6"/>
<circle class="b" cx="927.71" cy="508.2" r="23.7"/>
<circle class="k" cx="904.01" cy="508.2" r="1.6"/>
<circle class="b" cx="976.96" cy="508.2" r="23.7"/>
<circle class="k" cx="953.26" cy="508.2" r="1.6"/>
<circle class="b" cx="1026.22" cy="508.2" r="23.7"/>
<circle class="k" cx="1002.52" cy="508.2" r="1.6"/>
<circle class="b" cx="1075.48" cy="508.2" r="23.7"/>
<circle class="k" cx="1051.78" cy="508.2" r="1.6"/>
<circle class="b" cx="1124.73" cy="508.2" r="23.7"/>
<circle class="k" cx="1101.03" cy="508.2" r="1.6"/>
<circle class="b" cx="1173.99" cy="508.2" r="23.7"/>
<circle class="k" cx="1150.29" cy="508.2" r="1.6"/>
<circle class="b" cx="1223.25" cy="508.2" r="23.7"/>
<circle class="k" cx="1199.55" cy="508.2" r="1.6"/>
<circle class="b" cx="1272.5" cy="508.2" r="23.7"/>
<circle class="k" cx="1248.8" cy="508.2" r="1.6"/>
<circle class="s" cx="1321.76" cy="508.2" r="3.1"/>
<circle class="k" cx="1320.28" cy="508.2" r="1.9"/>
<circle class="b" cx="1371.01" cy="508.2" r="23.7"/>
<circle class="k" cx="1347.31" cy="508.2" r="1.6"/>
<circle class="b" cx="1420.27" cy="508.2" r="23.7"/>
<circle class="k" cx="1396.57" cy="508.2" r="1.6"/>
<circle class="s" cx="1469.53" cy="508.2" r="3.1"/>
<circle class="k" cx="1468.05" cy="508.2" r="1.9"/>
<circle class="s" cx="1518.78" cy="508.2" r="3.1"/>
<circle class="k" cx="1517.3" cy="508.2" r="1.9"/>
<circle class="b" cx="1568.04" cy="508.2" r="23.7"/>
<circle class="k" cx="1544.34" cy="508.2" r="1.6"/>
<circle class="b" cx="1617.3" cy="508.2" r="23.7"/>
<circle class="k" cx="1593.6" cy="508.2" r="1.6"/>
<circle class="b" cx="1666.55" cy="508.2" r="23.7"/>
<circle class="k" cx="1642.85" cy="508.2" r="1.6"/>
<circle class="b" cx="1715.81" cy="508.2" r="23.7"/>
<circle class="k" cx="1692.11" cy="508.2" r="1.6"/>
<circle class="b" cx="1765.07" cy="508.2" r="23.7"/>
<circle class="k" cx="1741.37" cy="508.2" r="1.6"/>
<circle class="b" cx="1814.32" cy="508.2" r="23.7"/>
<circle class="k" cx="1790.62" cy="508.2" r="1.6"/>
<circle class="b" cx="1863.58" cy="508.2" r="23.7"/>
<circle class="k" cx="1839.88" cy="508.2" r="1.6"/>
<circle class="b" cx="1912.83" cy="508.2" r="23.7"/>
<circle class="k" cx="1889.13" cy="508.2" r="1.6"/>
<circle class="s" cx="1962.09" cy="508.2" r="3.1"/>
<circle class="k" cx="1960.61" cy="508.2" r="1.9"/>
<circle class="s" cx="2011.35" cy="508.2" r="3.1"/>
<circle class="k" cx="2009.87" cy="508.2" r="1.9"/>
<circle class="s" cx="2060.6" cy="508.2" r="3.1"/>
<circle class="k" cx="2059.12" cy="508.2" r="1.9"/>
<circle class="s" cx="2109.86" cy="508.2" r="3.1"/>
<circle class="k" cx="2108.38" cy="508.2" r="1.9"/>
<circle class="s" cx="2159.12" cy="508.2" r="3.1"/>
<circle class="k" cx="2157.64" cy="508.2" r="1.9"/>
<circle class="s" cx="2208.37" cy="508.2" r="3.1"/>
<circle class="k" cx="2206.89" cy="508.2" r="1.9"/>
<circle class="s" cx="2257.63" cy="508.2" r="3.1"/>
<circle class="k" cx="2256.15" cy="508.2" r="1.9"/>
<circle class="s" cx="2306.89" cy="508.2" r="3.1"/>
<circle class="k" cx="2305.41" cy="508.2" r="1.9"/>
<circle class="s" cx="2356.14" cy="508.2" r="3.1"/>
<circle class="k" cx="2354.66" cy="508.2" r="1.9"/>
<circle class="s" cx="2405.4" cy="508.2" r="3.1"/>
<circle class="k" cx="2403.92" cy="508.2" r="1.9"/>
<circle class="b" cx="2454.65" cy="508.2" r="23.7"/>
<circle class="k" cx="2430.95" cy="508.2" r="1.6"/>
<circle class="b" cx="2503.91" cy="508.2" r="23.7"/>
<circle class="k" cx="2480.21" cy="508.2" r="1.6"/>
<circle class="s" cx="2553.17" cy="508.2" r="3.1"/>
<circle class="k" cx="2551.69" cy="508.2" r="1.9"/>
<circle class="s" cx="2602.42" cy="508.2" r="3.1"/>
<circle class="k" cx="2600.94" cy="508.2" r="1.9"/>
<circle class="s" cx="2651.68" cy="508.2" r="3.1"/>
<circle class="k" cx="2650.2" cy="508.2" r="1.9"/>
<circle class="s" cx="2700.94" cy="508.2" r="3.1"/>
<circle class="k" cx="2699.46" cy="508.2" r="1.9"/>
<circle class="s" cx="2750.19" cy="508.2" r="3.1"/>
<circle class="k" cx="2748.71" cy="508.2" r="1.9"/>
<circle class="s" cx="2799.45" cy="508.2" r="3.1"/>
<circle class="k" cx="2797.97" cy="508.2" r="1.9"/>
<circle class="s" cx="2848.71" cy="508.2" r="3.1"/>
<circle class="k" cx="2847.23" cy="508.2" r="1.9"/>
<circle class="b" cx="2897.96" cy="508.2" r="23.7"/>
<circle class="k" cx="2874.26" cy="508.2" r="1.6"/>
<circle class="b" cx="2947.22" cy="508.2" r="23.7"/>
<circle class="k" cx="2923.52" cy="508.2" r="1.6"/>
<circle class="s" cx="2996.47" cy="508.2" r="3.1"/>
<circle class="k" cx="2994.99" cy="508.2" r="1.9"/>
<circle class="s" cx="3045.73" cy="508.2" r="3.1"/>
<circle class="k" cx="3044.25" cy="508.2" r="1.9"/>
<circle class="s" cx="3094.99" cy="508.2" r="3.1"/>
<circle class="k" cx="3093.51" cy="508.2" r="1.9"/>
<circle class="s" cx="3144.24" cy="508.2" r="3.1"/>
<circle class="k" cx="3142.76" cy="508.2" r="1.9"/>
<circle class="s" cx="3193.5" cy="508.2" r="3.1"/>
<circle class="k" cx="3192.02" cy="508.2" r="1.9"/>
<circle class="s" cx="484.4" cy="565.1" r="3.1"/>
<circle class="k" cx="482.92" cy="565.1" r="1.9"/>
<circle class="s" cx="533.66" cy="565.1" r="3.1"/>
<circle class="k" cx="532.18" cy="565.1" r="1.9"/>
<circle class="s" cx="582.91" cy="565.1" r="3.1"/>
<circle class="k" cx="581.43" cy="565.1" r="1.9"/>
<circle class="s" cx="632.17" cy="565.1" r="3.1"/>
<circle class="k" cx="630.69" cy="565.1" r="1.9"/>
<circle class="s" cx="681.43" cy="565.1" r="3.1"/>
<circle class="k" cx="679.95" cy="565.1" r="1.9"/>
<circle class="s" cx="730.68" cy="565.1" r="3.1"/>
<circle class="k" cx="729.2" cy="565.1" r="1.9"/>
<circle class="s" cx="779.94" cy="565.1" r="3.1"/>
<circle class="k" cx="778.46" cy="565.1" r="1.9"/>
<circle class="s" cx="829.19" cy="565.1" r="3.1"/>
<circle class="k" cx="827.71" cy="565.1" r="1.9"/>
<circle class="s" cx="878.45" cy="565.1" r="3.1"/>
<circle class="k" cx="876.97" cy="565.1" r="1.9"/>
<circle class="s" cx="927.71" cy="565.1" r="3.1"/>
<circle class="k" cx="926.23" cy="565.1" r="1.9"/>
<circle class="s" cx="976.96" cy="565.1" r="3.1"/>
<circle class="k" cx="975.48" cy="565.1" r="1.9"/>
<circle class="s" cx="1026.22" cy="565.1" r="3.1"/>
<circle class="k" cx="1024.74" cy="565.1" r="1.9"/>
<circle class="b" cx="1075.48" cy="565.1" r="23.7"/>
<circle class="k" cx="1051.78" cy="565.1" r="1.6"/>
<circle class="b" cx="1124.73" cy="565.1" r="23.7"/>
<circle class="k" cx="1101.03" cy="565.1" r="1.6"/>
<circle class="s" cx="1173.99" cy="565.1" r="3.1"/>
<circle class="k" cx="1172.51" cy="565.1" r="1.9"/>
<circle class="s" cx="1223.25" cy="565.1" r="3.1"/>
<circle class="k" cx="1221.77" cy="565.1" r="1.9"/>
<circle class="s" cx="1272.5" cy="565.1" r="3.1"/>
<circle class="k" cx="1271.02" cy="565.1" r="1.9"/>
<circle class="s" cx="1321.76" cy="565.1" r="3.1"/>
<circle class="k" cx="1320.28" cy="565.1" r="1.9"/>
<circle class="s" cx="1371.01" cy="565.1" r="3.1"/>
<circle class="k" cx="1369.53" cy="565.1" r="1.9"/>
<circle class="s" cx="1420.27" cy="565.1" r="3.1"/>
<circle class="k" cx="1418.79" cy="565.1" r="1.9"/>
<circle class="s" cx="1469.53" cy="565.1" r="3.1"/>
<circle class="k" cx="1468.05" cy="565.1" r="1.9"/>
<circle class="s" cx="1518.78" cy="565.1" r="3.1"/>
<circle class="k" cx="1517.3" cy="565.1" r="1.9"/>
<circle class="s" cx="1568.04" cy="565.1" r="3.1"/>
<circle class="k" cx="1566.56" cy="565.1" r="1.9"/>
<circle class="b" cx="1617.3" cy="565.1" r="23.7"/>
<circle class="k" cx="1593.6" cy="565.1" r="1.6"/>
<circle class="s" cx="1666.55" cy="565.1" r="3.1"/>
<circle class="k" cx="1665.07" cy="565.1" r="1.9"/>
<circle class="s" cx="1715.81" cy="565.1" r="3.1"/>
<circle class="k" cx="1714.33" cy="565.1" r="1.9"/>
<circle class="s" cx="1765.07" cy="565.1" r="3.1"/>
<circle class="k" cx="1763.59" cy="565.1" r="1.9"/>
<circle class="s" cx="1814.32" cy="565.1" r="3.1"/>
<circle class="k" cx="1812.84" cy="565.1" r="1.9"/>
<circle class="s" cx="1863.58" cy="565.1" r="3.1"/>
<circle class="k" cx="1862.1" cy="565.1" r="1.9"/>
<circle class="s" cx="1912.83" cy="565.1" r="3.1"/>
<circle class="k" cx="1911.35" cy="565.1" r="1.9"/>
<circle class="s" cx="1962.09" cy="565.1" r="3.1"/>
<circle class="k" cx="1960.61" cy="565.1" r="1.9"/>
<circle class="s" cx="2011.35" cy="565.1" r="3.1"/>
<circle class="k" cx="2009.87" cy="565.1" r="1.9"/>
<circle class="s" cx="2060.6" cy="565.1" r="3.1"/>
<circle class="k" cx="2059.12" cy="565.1" r="1.9"/>
<circle class="s" cx="2109.86" cy="565.1" r="3.1"/>
<circle class="k" cx="2108.38" cy="565.1" r="1.9"/>
<circle class="s" cx="2159.12" cy="565.1" r="3.1"/>
<circle class="k" cx="2157.64" cy="565.1" r="1.9"/>
<circle class="s" cx="2208.37" cy="565.1" r="3.1"/>
<circle class="k" cx="2206.89" cy="565.1" r="1.9"/>
<circle class="s" cx="2257.63" cy="565.1" r="3.1"/>
<circle class="k" cx="2256.15" cy="565.1" r="1.9"/>
<circle class="s" cx="2306.89" cy="565.1" r="3.1"/>
<circle class="k" cx="2305.41" cy="565.1" r="1.9"/>
<circle class="s" cx="2356.14" cy="565.1" r="3.1"/>
<circle class="k" cx="2354.66" cy="565.1" r="1.9"/>
<circle class="s" cx="2405.4" cy="565.1" r="3.1"/>
<circle class="k" cx="2403.92" cy="565.1" r="1.9"/>
<circle class="s" cx="2454.65" cy="565.1" r="3.1"/>
<circle class="k" cx="2453.17" cy="565.1" r="1.9"/>
<circle class="s" cx="2503.91" cy="565.1" r="3.1"/>
<circle class="k" cx="2502.43" cy="565.1" r="1.9"/>
<circle class="s" cx="2553.17" cy="565.1" r="3.1"/>
<circle class="k" cx="2551.69" cy="565.1" r="1.9"/>
<circle class="s" cx="2602.42" cy="565.1" r="3.1"/>
<circle class="k" cx="2600.94" cy="565.1" r="1.9"/>
<circle class="s" cx="2651.68" cy="565.1" r="3.1"/>
<circle class="k" cx="2650.2" cy="565.1" r="1.9"/>
<circle class="s" cx="2700.94" cy="565.1" r="3.1"/>
<circle class="k" cx="2699.46" cy="565.1" r="1.9"/>
<circle class="s" cx="2750.19" cy="565.1" r="3.1"/>
<circle class="k" cx="2748.71" cy="565.1" r="1.9"/>
<circle class="s" cx="2799.45" cy="565.1" r="3.1"/>
<circle class="k" cx="2797.97" cy="565.1" r="1.9"/>
<circle class="s" cx="2848.71" cy="565.1" r="3.1"/>
<circle class="k" cx="2847.23" cy="565.1" r="1.9"/>
<circle class="s" cx="2897.96" cy="565.1" r="3.1"/>
<circle class="k" cx="2896.48" cy="565.1" r="1.9"/>
<circle class="s" cx="2947.22" cy="565.1" r="3.1"/>
<circle class="k" cx="2945.74" cy="565.1" r="1.9"/>
<circle class="s" cx="2996.47" cy="565.1" r="3.1"/>
<circle class="k" cx="2994.99" cy="565.1" r="1.9"/>
<circle class="s" cx="3045.73" cy="565.1" r="3.1"/>
<circle class="k" cx="3044.25" cy="565.1" r="1.9"/>
<circle class="s" cx="3094.99" cy="565.1" r="3.1"/>
<circle class="k" cx="3093.51" cy="565.1" r="1.9"/>
<circle class="s" cx="3144.24" cy="565.1" r="3.1"/>
<circle class="k" cx="3142.76" cy="565.1" r="1.9"/>
<circle class="s" cx="3193.5" cy="565.1" r="3.1"/>
<circle class="k" cx="3192.02" cy="565.1" r="1.9"/>
<circle cx="484.4" cy="622" r="23.7" fill="#a6cee3" fill-opacity="0.5" stroke="#000" stroke-opacity="0.5" stroke-width="3.2"/>
<circle cx="484.4" cy="622" r="23.7" fill="#a6cee3" fill-opacity="0.5" stroke="#000" stroke-opacity="0.5" stroke-width="3.2"/>
<circle class="k" cx="460.7" cy="622" r="1.6"/>
<circle class="b" cx="533.66" cy="622" r="23.7"/>
<circle class="k" cx="509.96" cy="622" r="1.6"/>
<circle class="b" cx="582.91" cy="622" r="23.7"/>
<circle class="k" cx="559.21" cy="622" r="1.6"/>
<circle class="b" cx="632.17" cy="622" r="23.7"/>
<circle class="k" cx="608.47" cy="622" r="1.6"/>
<circle class="b" cx="681.43" cy="622" r="23.7"/>
<circle class="k" cx="657.73" cy="622" r="1.6"/>
<circle class="s" cx="730.68" cy="622" r="3.1"/>
<circle class="k" cx="729.2" cy="622" r="1.9"/>
<circle class="s" cx="779.94" cy="622" r="3.1"/>
<circle class="k" cx="778.46" cy="622" r="1.9"/>
<circle class="s" cx="829.19" cy="622" r="3.1"/>
<circle class="k" cx="827.71" cy="622" r="1.9"/>
<circle class="s" cx="878.45" cy="622" r="3.1"/>
<circle class="k" cx="876.97" cy="622" r="1.9"/>
<circle class="b" cx="927.71" cy="622" r="23.7"/>
<circle class="k" cx="904.01" cy="622" r="1.6"/>
<circle class="s" cx="976.96" cy="622" r="3.1"/>
<circle class="k" cx="975.48" cy="622" r="1.9"/>
<circle class="s" cx="1026.22" cy="622" r="3.1"/>
<circle class="k" cx="1024.74" cy="622" r="1.9"/>
<circle class="s" cx="1075.48" cy="622" r="3.1"/>
<circle class="k" cx="1074" cy="622" r="1.9"/>
<circle class="s" cx="1124.73" cy="622" r="3.1"/>
<circle class="k" cx="1123.25" cy="622" r="1.9"/>
<circle class="s" cx="1173.99" cy="622" r="3.1"/>
<circle class="k" cx="1172.51" cy="622" r="1.9"/>
<circle class="s" cx="1223.25" cy="622" r="3.1"/>
<circle class="k" cx="1221.77" cy="622" r="1.9"/>
<circle class="b" cx="1272.5" cy="622" r="23.7"/>
<circle class="k" cx="1248.8" cy="622" r="1.6"/>
<circle class="s" cx="1321.76" cy="622" r="3.1"/>
<circle class="k" cx="1320.28" cy="622" r="1.9"/>
<circle class="s" cx="1371.01" cy="622" r="3.1"/>
<circle class="k" cx="1369.53" cy="622" r="1.9"/>
<circle class="s" cx="1420.27" cy="622" r="3.1"/>
<circle class="k" cx="1418.79" cy="622" r="1.9"/>
<circle class="s" cx="1469.53" cy="622" r="3.1"/>
<circle class="k" cx="1468.05" cy="622" r="1.9"/>
<circle class="s" cx="1518.78" cy="622" r="3.1"/>
<circle class="k" cx="1517.3" cy="622" r="1.9"/>
<circle class="b" cx="1568.04" cy="622" r="23.7"/>
<circle class="k" cx="1544.34" cy="622" r="1.6"/>
<circle class="b" cx="1617.3" cy="622" r="23.7"/>
<circle class="k" cx="1593.6" cy="622" r="1.6"/>
<circle class="s" cx="1666.55" cy="622" r="3.1"/>
<circle class="k" cx="1665.07" cy="622" r="1.9"/>
<circle class="s" cx="1715.81" cy="622" r="3.1"/>
<circle class="k" cx="1714.33" cy="622" r="1.9"/>
<circle class="b" cx="1765.07" cy="622" r="23.7"/>
<circle class="k" cx="1741.37" cy="622" r="1.6"/>
<circle class="b" cx="1814.32" cy="622" r="23.7"/>
<circle class="k" cx="1790.62" cy="622" r="1.6"/>
<circle class="b" cx="1863.58" cy="622" r="23.7"/>
<circle class="k" cx="1839.88" cy="622" r="1.6"/>
<circle class="b" cx="1912.83" cy="622" r="23.7"/>
<circle class="k" cx="1889.13" cy="622" r="1.6"/>
<circle class="b" cx="1962.09" cy="622" r="23.7"/>
<circle class="k" cx="1938.39" cy="622" r="1.6"/>
<circle class="b" cx="2011.35" cy="622" r="23.7"/>
<circle class="k" cx="1987.65" cy="622" r="1.6"/>
<circle class="b" cx="2060.6" cy="622" r="23.7"/>
<circle class="k" cx="2036.9" cy="622" r="1.6"/>
<circle class="b" cx="2109.86" cy="622" r="23.7"/>
<circle class="k" cx="2086.16" cy="622" r="1.6"/>
<circle class="b" cx="2159.12" cy="622" r="23.7"/>
<circle class="k" cx="2135.42" cy="622" r="1.6"/>
<circle class="b" cx="2208.37" cy="622" r="23.7"/>
<circle class="k" cx="2184.67" cy="622" r="1.6"/>
<circle class="b" cx="2257.63" cy="622" r="23.7"/>
<circle class="k" cx="2233.93" cy="622" r="1.6"/>
<circle class="b" cx="2306.89" cy="622" r="23.7"/>
<circle class="k" cx="2283.19" cy="622" r="1.6"/>
<circle class="b" cx="2356.14" cy="622" r="23.7"/>
<circle class="k" cx="2332.44" cy="622" r="1.6"/>
<circle class="b" cx="2405.4" cy="622" r="23.7"/>
<circle class="k" cx="2381.7" cy="622" r="1.6"/>
<circle class="b" cx="2454.65" cy="622" r="23.7"/>
<circle class="k" cx="2430.95" cy="622" r="1.6"/>
<circle class="b" cx="2503.91" cy="622" r="23.7"/>
<circle class="k" cx="2480.21" cy="622" r="1.6"/>
<circle class="b" cx="2553.17" cy="622" r="23.7"/>
<circle class="k" cx="2529.47" cy="622" r="1.6"/>
<circle class="b" cx="2602.42" cy="622" r="23.7"/>
<circle class="k" cx="2578.72" cy="622" r="1.6"/>
<circle class="b" cx="2651.68" cy="622" r="23.7"/>
<circle class="k" cx="2627.98" cy="622" r="1.6"/>
<circle class="b" cx="2700.94" cy="622" r="23.7"/>
<circle class="k" cx="2677.24" cy="622" r="1.6"/>
<circle class="b" cx="2750.19" cy="622" r="23.7"/>
<circle class="k" cx="2726.49" cy="622" r="1.6"/>
<circle class="b" cx="2799.45" cy="622" r="23.7"/>
<circle class="k" cx="2775.75" cy="622" r="1.6"/>
<circle class="b" cx="2848.71" cy="622" r="23.7"/>
<circle class="k" cx="2825.01" cy="622" r="1.6"/>
<circle class="b" cx="2897.96" cy="622" r="23.7"/>
<circle class="k" cx="2874.26" cy="622" r="1.6"/>
<circle class="b" cx="2947.22" cy="622" r="23.7"/>
<circle class="k" cx="2923.52" cy="622" r="1.6"/>
<circle class="b" cx="2996.47" cy="622" r="23.7"/>
<circle class="k" cx="2972.77" cy="622" r="1.6"/>
<circle class="b" cx="3045.73" cy="622" r="23.7"/>
<circle class="k" cx="3022.03" cy="622" r="1.6"/>
<circle class="b" cx="3094.99" cy="622" r="23.7"/>
<circle class="k" cx="3071.29" cy="622" r="1.6"/>
<circle class="b" cx="3144.24" cy="622" r="23.7"/>
<circle class="k" cx="3120.54" cy="622" r="1.6"/>
<circle class="b" cx="3193.5" cy="622" r="23.7"/>
<circle class="k" cx="3169.8" cy="622" r="1.6"/>
<circle class="s" cx="484.4" cy="678.9" r="3.1"/>
<circle class="k" cx="482.92" cy="678.9" r="1.9"/>
<circle class="s" cx="533.66" cy="678.9" r="3.1"/>
<circle class="k" cx="532.18" cy="678.9" r="1.9"/>
<circle class="s" cx="582.91" cy="678.9" r="3.1"/>
<circle class="k" cx="581.43" cy="678.9" r="1.9"/>
<circle class="s" cx="632.17" cy="678.9" r="3.1"/>
<circle class="k" cx="630.69" cy="678.9" r="1.9"/>
<circle class="s" cx="681.43" cy="678.9" r="3.1"/>
<circle class="k" cx="679.95" cy="678.9" r="1.9"/>
<circle class="s" cx="730.68" cy="678.9" r="3.1"/>
<circle class="k" cx="729.2" cy="678.9" r="1.9"/>
<circle class="s" cx="779.94" cy="678.9" r="3.1"/>
<circle class="k" cx="778.46" cy="678.9" r="1.9"/>
<circle class="s" cx="829.19" cy="678.9" r="3.1"/>
<circle class="k" cx="827.71" cy="678.9" r="1.9"/>
<circle class="s" cx="878.45" cy="678.9" r="3.1"/>
<circle class="k" cx="876.97" cy="678.9" r="1.9"/>
<circle class="s" cx="927.71" cy="678.9" r="3.1"/>
<circle class="k" cx="926.23" cy="678.9" r="1.9"/>
<circle class="s" cx="976.96" cy="678.9" r="3.1"/>
<circle class="k" cx="975.48" cy="678.9" r="1.9"/>
<circle class="s" cx="1026.22" cy="678.9" r="3.1"/>
<circle class="k" cx="1024.74" cy="678.9" r="1.9"/>
<circle class="s" cx="1075.48" cy="678.9" r="3.1"/>
<circle class="k" cx="1074" cy="678.9" r="1.9"/>
<circle class="s" cx="1124.73" cy="678.9" r="3.1"/>
<circle class="k" cx="1123.25" cy="678.9" r="1.9"/>
<circle class="s" cx="1173.99" cy="678.9" r="3.1"/>
<circle class="k" cx="1172.51" cy="678.9" r="1.9"/>
<circle class="s" cx="1223.25" cy="678.9" r="3.1"/>
<circle class="k" cx="1221.77" cy="678.9" r="1.9"/>
<circle class="s" cx="1272.5" cy="678.9" r="3.1"/>
<circle class="k" cx="1271.02" cy="678.9" r="1.9"/>
<circle class="s" cx="1321.76" cy="678.9" r="3.1"/>
<circle class="k" cx="1320.28" cy="678.9" r="1.9"/>
<circle class="s" cx="1371.01" cy="678.9" r="3.1"/>
<circle class="k" cx="1369.53" cy="678.9" r="1.9"/>
<circle class="s" cx="1420.27" cy="678.9" r="3.1"/>
<circle class="k" cx="1418.79" cy="678.9" r="1.9"/>
<circle class="s" cx="1469.53" cy="678.9" r="3.1"/>
<circle class="k" cx="1468.05" cy="678.9" r="1.9"/>
<circle class="s" cx="1518.78" cy="678.9" r="3.1"/>
<circle class="k" cx="1517.3" cy="678.9" r="1.9"/>
<circle class="s" cx="1568.04" cy="678.9" r="3.1"/>
<circle class="k" cx="1566.56" cy="678.9" r="1.9"/>
<circle class="b" cx="1617.3" cy="678.9" r="23.7"/>
<circle class="k" cx="1593.6" cy="678.9" r="1.6"/>
<circle class="s" cx="1666.55" cy="678.9" r="3.1"/>
<circle class="k" cx="1665.07" cy="678.9" r="1.9"/>
<circle class="s" cx="1715.81" cy="678.9" r="3.1"/>
<circle class="k" cx="1714.33" cy="678.9" r="1.9"/>
<circle class="b" cx="1765.07" cy="678.9" r="23.7"/>
<circle class="k" cx="1741.37" cy="678.9" r="1.6"/>
<circle class="b" cx="1814.32" cy="678.9" r="23.7"/>
<circle class="k" cx="1790.62" cy="678.9" r="1.6"/>
<circle class="s" cx="1863.58" cy="678.9" r="3.1"/>
<circle class="k" cx="1862.1" cy="678.9" r="1.9"/>
<circle class="s" cx="1912.83" cy="678.9" r="3.1"/>
<circle class="k" cx="1911.35" cy="678.9" r="1.9"/>
<circle class="s" cx="1962.09" cy="678.9" r="3.1"/>
<circle class="k" cx="1960.61" cy="678.9" r="1.9"/>
<circle class="s" cx="2011.35" cy="678.9" r="3.1"/>
<circle class="k" cx="2009.87" cy="678.9" r="1.9"/>
<circle class="s" cx="2060.6" cy="678.9" r="3.1"/>
<circle class="k" cx="2059.12" cy="678.9" r="1.9"/>
<circle class="s" cx="2109.86" cy="678.9" r="3.1"/>
<circle class="k" cx="2108.38" cy="678.9" r="1.9"/>
<circle class="s" cx="2159.12" cy="678.9" r="3.1"/>
<circle class="k" cx="2157.64" cy="678.9" r="1.9"/>
<circle class="s" cx="2208.37" cy="678.9" r="3.1"/>
<circle class="k" cx="2206.89" cy="678.9" r="1.9"/>
<circle class="s" cx="2257.63" cy="678.9" r="3.1"/>
<circle class="k" cx="2256.15" cy="678.9" r="1.9"/>
<circle class="s" cx="2306.89" cy="678.9" r="3.1"/>
<circle class="k" cx="2305.41" cy="678.9" r="1.9"/>
<circle class="s" cx="2356.14" cy="678.9" r="3.1"/>
<circle class="k" cx="2354.66" cy="678.9" r="1.9"/>
<circle class="s" cx="2405.4" cy="678.9" r="3.1"/>
<circle class="k" cx="2403.92" cy="678.9" r="1.9"/>
<circle class="s" cx="2454.65" cy="678.9" r="3.1"/>
<circle class="k" cx="2453.17" cy="678.9" r="1.9"/>
<circle class="s" cx="2503.91" cy="678.9" r="3.1"/>
<circle class="k" cx="2502.43" cy="678.9" r="1.9"/>
<circle class="s" cx="2553.17" cy="678.9" r="3.1"/>
<circle class="k" cx="2551.69" cy="678.9" r="1.9"/>
<circle class="s" cx="2602.42" cy="678.9" r="3.1"/>
<circle class="k" cx="2600.94" cy="678.9" r="1.9"/>
<circle class="s" cx="2651.68" cy="678.9" r="3.1"/>
<circle class="k" cx="2650.2" cy="678.9" r="1.9"/>
<circle class="s" cx="2700.94" cy="678.9" r="3.1"/>
<circle class="k" cx="2699.46" cy="678.9" r="1.9"/>
<circle class="s" cx="2750.19" cy="678.9" r="3.1"/>
<circle class="k" cx="2748.71" cy="678.9" r="1.9"/>
<circle class="s" cx="2799.45" cy="678.9" r="3.1"/>
<circle class="k" cx="2797.97" cy="678.9" r="1.9"/>
<circle class="s" cx="2848.71" cy="678.9" r="3.1"/>
<circle class="k" cx="2847.23" cy="678.9" r="1.9"/>
<circle class="s" cx="2897.96" cy="678.9" r="3.1"/>
<circle class="k" cx="2896.48" cy="678.9" r="1.9"/>
<circle class="s" cx="2947.22" cy="678.9" r="3.1"/>
<circle class="k" cx="2945.74" cy="678.9" r="1.9"/>
<circle class="s" cx="2996.47" cy="678.9" r="3.1"/>
<circle class="k" cx="2994.99" cy="678.9" r="1.9"/>
<circle class="s" cx="3045.73" cy="678.9" r="3.1"/>
<circle class="k" cx="3044.25" cy="678.9" r="1.9"/>
<circle class="s" cx="3094.99" cy="678.9" r="3.1"/>
<circle class="k" cx="3093.51" cy="678.9" r="1.9"/>
<circle class="s" cx="3144.24" cy="678.9" r="3.1"/>
<circle class="k" cx="3142.76" cy="678.9" r="1.9"/>
<circle class="s" cx="3193.5" cy="678.9" r="3.1"/>
<circle class="k" cx="3192.02" cy="678.9" r="1.9"/>
<circle class="s" cx="484.4" cy="735.8" r="3.1"/>
<circle class="k" cx="482.92" cy="735.8" r="1.9"/>
<circle class="s" cx="533.66" cy="735.8" r="3.1"/>
<circle class="k" cx="532.18" cy="735.8" r="1.9"/>
<circle class="s" cx="582.91" cy="735.8" r="3.1"/>
<circle class="k" cx="581.43" cy="735.8" r="1.9"/>
<circle class="s" cx="632.17" cy="735.8" r="3.1"/>
<circle class="k" cx="630.69" cy="735.8" r="1.9"/>
<circle class="s" cx="681.43" cy="735.8" r="3.1"/>
<circle class="k" cx="679.95" cy="735.8" r="1.9"/>
<circle class="s" cx="730.68" cy="735.8" r="3.1"/>
<circle class="k" cx="729.2" cy="735.8" r="1.9"/>
<circle class="s" cx="779.94" cy="735.8" r="3.1"/>
<circle class="k" cx="778.46" cy="735.8" r="1.9"/>
<circle class="s" cx="829.19" cy="735.8" r="3.1"/>
<circle class="k" cx="827.71" cy="735.8" r="1.9"/>
<circle class="s" cx="878.45" cy="735.8" r="3.1"/>
<circle class="k" cx="876.97" cy="735.8" r="1.9"/>
<circle class="s" cx="927.71" cy="735.8" r="3.1"/>
<circle class="k" cx="926.23" cy="735.8" r="1.9"/>
<circle class="s" cx="976.96" cy="735.8" r="3.1"/>
<circle class="k" cx="975.48" cy="735.8" r="1.9"/>
<circle class="s" cx="1026.22" cy="735.8" r="3.1"/>
<circle class="k" cx="1024.74" cy="735.8" r="1.9"/>
<circle class="s" cx="1075.48" cy="735.8" r="3.1"/>
<circle class="k" cx="1074" cy="735.8" r="1.9"/>
<circle class="s" cx="1124.73" cy="735.8" r="3.1"/>
<circle class="k" cx="1123.25" cy="735.8" r="1.9"/>
<circle class="s" cx="1173.99" cy="735.8" r="3.1"/>
<circle class="k" cx="1172.51" cy="735.8" r="1.9"/>
<circle class="s" cx="1223.25" cy="735.8" r="3.1"/>
<circle class="k" cx="1221.77" cy="735.8" r="1.9"/>
<circle class="b" cx="1272.5" cy="735.8" r="23.7"/>
<circle class="k" cx="1248.8" cy="735.8" r="1.6"/>
<circle class="s" cx="1321.76" cy="735.8" r="3.1"/>
<circle class="k" cx="1320.28" cy="735.8" r="1.9"/>
<circle class="s" cx="1371.01" cy="735.8" r="3.1"/>
<circle class="k" cx="1369.53" cy="735.8" r="1.9"/>
<circle class="s" cx="1420.27" cy="735.8" r="3.1"/>
<circle class="k" cx="1418.79" cy="735.8" r="1.9"/>
<circle class="s" cx="1469.53" cy="735.8" r="3.1"/>
<circle class="k" cx="1468.05" cy="735.8" r="1.9"/>
<circle class="s" cx="1518.78" cy="735.8" r="3.1"/>
<circle class="k" cx="1517.3" cy="735.8" r="1.9"/>
<circle class="s" cx="1568.04" cy="735.8" r="3.1"/>
<circle class="k" cx="1566.56" cy="735.8" r="1.9"/>
<circle class="s" cx="1617.3" cy="735.8" r="3.1"/>
<circle class="k" cx="1615.82" cy="735.8" r="1.9"/>
<circle class="s" cx="1666.55" cy="735.8" r="3.1"/>
<circle class="k" cx="1665.07" cy="735.8" r="1.9"/>
<circle class="s" cx="1715.81" cy="735.8" r="3.1"/>
<circle class="k" cx="1714.33" cy="735.8" r="1.9"/>
<circle class="s" cx="1765.07" cy="735.8" r="3.1"/>
<circle class="k" cx="1763.59" cy="735.8" r="1.9"/>
<circle class="b" cx="1814.32" cy="735.8" r="23.7"/>
<circle class="k" cx="1790.62" cy="735.8" r="1.6"/>
<circle class="s" cx="1863.58" cy="735.8" r="3.1"/>
<circle class="k" cx="1862.1" cy="735.8" r="1.9"/>
<circle class="s" cx="1912.83" cy="735.8" r="3.1"/>
<circle class="k" cx="1911.35" cy="735.8" r="1.9"/>
<circle class="s" cx="1962.09" cy="735.8" r="3.1"/>
<circle class="k" cx="1960.61" cy="735.8" r="1.9"/>
<circle class="s" cx="2011.35" cy="735.8" r="3.1"/>
<circle class="k" cx="2009.87" cy="735.8" r="1.9"/>
<circle class="s" cx="2060.6" cy="735.8" r="3.1"/>
<circle class="k" cx="2059.12" cy="735.8" r="1.9"/>
<circle class="s" cx="2109.86" cy="735.8" r="3.1"/>
<circle class="k" cx="2108.38" cy="735.8" r="1.9"/>
<circle class="s" cx="2159.12" cy="735.8" r="3.1"/>
<circle class="k" cx="2157.64" cy="735.8" r="1.9"/>
<circle class="s" cx="2208.37" cy="735.8" r="3.1"/>
<circle class="k" cx="2206.89" cy="735.8" r="1.9"/>
<circle class="b" cx="2257.63" cy="735.8" r="23.7"/>
<circle class="k" cx="2233.93" cy="735.8" r="1.6"/>
<circle class="b" cx="2306.89" cy="735.8" r="23.7"/>
<circle class="k" cx="2283.19" cy="735.8" r="1.6"/>
<circle class="b" cx="2356.14" cy="735.8" r="23.7"/>
<circle class="k" cx="2332.44" cy="735.8" r="1.6"/>
<circle class="b" cx="2405.4" cy="735.8" r="23.7"/>
<circle class="k" cx="2381.7" cy="735.8" r="1.6"/>
<circle class="s" cx="2454.65" cy="735.8" r="3.1"/>
<circle class="k" cx="2453.17" cy="735.8" r="1.9"/>
<circle class="s" cx="2503.91" cy="735.8" r="3.1"/>
<circle class="k" cx="2502.43" cy="735.8" r="1.9"/>
<circle class="s" cx="2553.17" cy="735.8" r="3.1"/>
<circle class="k" cx="2551.69" cy="735.8" r="1.9"/>
<circle class="s" cx="2602.42" cy="735.8" r="3.1"/>
<circle class="k" cx="2600.94" cy="735.8" r="1.9"/>
<circle class="s" cx="2651.68" cy="735.8" r="3.1"/>
<circle class="k" cx="2650.2" cy="735.8" r="1.9"/>
<circle class="s" cx="2700.94" cy="735.8" r="3.1"/>
<circle class="k" cx="2699.46" cy="735.8" r="1.9"/>
<circle class="s" cx="2750.19" cy="735.8" r="3.1"/>
<circle class="k" cx="2748.71" cy="735.8" r="1.9"/>
<circle class="s" cx="2799.45" cy="735.8" r="3.1"/>
<circle class="k" cx="2797.97" cy="735.8" r="1.9"/>
<circle class="s" cx="2848.71" cy="735.8" r="3.1"/>
<circle class="k" cx="2847.23" cy="735.8" r="1.9"/>
<circle class="b" cx="2897.96" cy="735.8" r="23.7"/>
<circle class="k" cx="2874.26" cy="735.8" r="1.6"/>
<circle class="b" cx="2947.22" cy="735.8" r="23.7"/>
<circle class="k" cx="2923.52" cy="735.8" r="1.6"/>
<circle class="s" cx="2996.47" cy="735.8" r="3.1"/>
<circle class="k" cx="2994.99" cy="735.8" r="1.9"/>
<circle class="s" cx="3045.73" cy="735.8" r="3.1"/>
<circle class="k" cx="3044.25" cy="735.8" r="1.9"/>
<circle class="s" cx="3094.99" cy="735.8" r="3.1"/>
<circle class="k" cx="3093.51" cy="735.8" r="1.9"/>
<circle class="s" cx="3144.24" cy="735.8" r="3.1"/>
<circle class="k" cx="3142.76" cy="735.8" r="1.9"/>
<circle class="s" cx="3193.5" cy="735.8" r="3.1"/>
<circle class="k" cx="3192.02" cy="735.8" r="1.9"/>
<circle class="s" cx="484.4" cy="792.7" r="3.1"/>
<circle class="k" cx="482.92" cy="792.7" r="1.9"/>
<circle class="s" cx="533.66" cy="792.7" r="3.1"/>
<circle class="k" cx="532.18" cy="792.7" r="1.9"/>
<circle class="s" cx="582.91" cy="792.7" r="3.1"/>
<circle class="k" cx="581.43" cy="792.7" r="1.9"/>
<circle class="s" cx="632.17" cy="792.7" r="3.1"/>
<circle class="k" cx="630.69" cy="792.7" r="1.9"/>
<circle class="s" cx="681.43" cy="792.7" r="3.1"/>
<circle class="k" cx="679.95" cy="792.7" r="1.9"/>
<circle class="s" cx="730.68" cy="792.7" r="3.1"/>
<circle class="k" cx="729.2" cy="792.7" r="1.9"/>
<circle class="s" cx="779.94" cy="792.7" r="3.1"/>
<circle class="k" cx="778.46" cy="792.7" r="1.9"/>
<circle class="s" cx="829.19" cy="792.7" r="3.1"/>
<circle class="k" cx="827.71" cy="792.7" r="1.9"/>
<circle class="s" cx="878.45" cy="792.7" r="3.1"/>
<circle class="k" cx="876.97" cy="792.7" r="1.9"/>
<circle class="s" cx="927.71" cy="792.7" r="3.1"/>
<circle class="k" cx="926.23" cy="792.7" r="1.9"/>
<circle class="s" cx="976.96" cy="792.7" r="3.1"/>
<circle class="k" cx="975.48" cy="792.7" r="1.9"/>
<circle class="s" cx="1026.22" cy="792.7" r="3.1"/>
<circle class="k" cx="1024.74" cy="792.7" r="1.9"/>
<circle class="s" cx="1075.48" cy="792.7" r="3.1"/>
<circle class="k" cx="1074" cy="792.7" r="1.9"/>
<circle class="s" cx="1124.73" cy="792.7" r="3.1"/>
<circle class="k" cx="1123.25" cy="792.7" r="1.9"/>
<circle class="s" cx="1173.99" cy="792.7" r="3.1"/>
<circle class="k" cx="1172.51" cy="792.7" r="1.9"/>
<circle class="s" cx="1223.25" cy="792.7" r="3.1"/>
<circle class="k" cx="1221.77" cy="792.7" r="1.9"/>
<circle class="s" cx="1272.5" cy="792.7" r="3.1"/>
<circle class="k" cx="1271.02" cy="792.7" r="1.9"/>
<circle class="s" cx="1321.76" cy="792.7" r="3.1"/>
<circle class="k" cx="1320.28" cy="792.7" r="1.9"/>
<circle class="s" cx="1371.01" cy="792.7" r="3.1"/>
<circle class="k" cx="1369.53" cy="792.7" r="1.9"/>
<circle class="s" cx="1420.27" cy="792.7" r="3.1"/>
<circle class="k" cx="1418.79" cy="792.7" r="1.9"/>
<circle class="s" cx="1469.53" cy="792.7" r="3.1"/>
<circle class="k" cx="1468.05" cy="792.7" r="1.9"/>
<circle class="s" cx="1518.78" cy="792.7" r="3.1"/>
<circle class="k" cx="1517.3" cy="792.7" r="1.9"/>
<circle class="s" cx="1568.04" cy="792.7" r="3.1"/>
<circle class="k" cx="1566.56" cy="792.7" r="1.9"/>
<circle class="s" cx="1617.3" cy="792.7" r="3.1"/>
<circle class="k" cx="1615.82" cy="792.7" r="1.9"/>
<circle class="s" cx="1666.55" cy="792.7" r="3.1"/>
<circle class="k" cx="1665.07" cy="792.7" r="1.9"/>
<circle class="s" cx="1715.81" cy="792.7" r="3.1"/>
<circle class="k" cx="1714.33" cy="792.7" r="1.9"/>
<circle class="b" cx="1765.07" cy="792.7" r="23.7"/>
<circle class="k" cx="1741.37" cy="792.7" r="1.6"/>
<circle class="s" cx="1814.32" cy="792.7" r="3.1"/>
<circle class="k" cx="1812.84" cy="792.7" r="1.9"/>
<circle class="s" cx="1863.58" cy="792.7" r="3.1"/>
<circle class="k" cx="1862.1" cy="792.7" r="1.9"/>
<circle class="s" cx="1912.83" cy="792.7" r="3.1"/>
<circle class="k" cx="1911.35" cy="792.7" r="1.9"/>
<circle class="s" cx="1962.09" cy="792.7" r="3.1"/>
<circle class="k" cx="1960.61" cy="792.7" r="1.9"/>
<circle class="s" cx="2011.35" cy="792.7" r="3.1"/>
<circle class="k" cx="2009.87" cy="792.7" r="1.9"/>
<circle class="s" cx="2060.6" cy="792.7" r="3.1"/>
<circle class="k" cx="2059.12" cy="792.7" r="1.9"/>
<circle class="s" cx="2109.86" cy="792.7" r="3.1"/>
<circle class="k" cx="2108.38" cy="792.7" r="1.9"/>
<circle class="s" cx="2159.12" cy="792.7" r="3.1"/>
<circle class="k" cx="2157.64" cy="792.7" r="1.9"/>
<circle class="s" cx="2208.37" cy="792.7" r="3.1"/>
<circle class="k" cx="2206.89" cy="792.7" r="1.9"/>
<circle class="s" cx="2257.63" cy="792.7" r="3.1"/>
<circle class="k" cx="2256.15" cy="792.7" r="1.9"/>
<circle class="s" cx="2306.89" cy="792.7" r="3.1"/>
<circle class="k" cx="2305.41" cy="792.7" r="1.9"/>
<circle class="s" cx="2356.14" cy="792.7" r="3.1"/>
<circle class="k" cx="2354.66" cy="792.7" r="1.9"/>
<circle class="s" cx="2405.4" cy="792.7" r="3.1"/>
<circle class="k" cx="2403.92" cy="792.7" r="1.9"/>
<circle class="s" cx="2454.65" cy="792.7" r="3.1"/>
<circle class="k" cx="2453.17" cy="792.7" r="1.9"/>
<circle class="s" cx="2503.91" cy="792.7" r="3.1"/>
<circle class="k" cx="2502.43" cy="792.7" r="1.9"/>
<circle class="s" cx="2553.17" cy="792.7" r="3.1"/>
<circle class="k" cx="2551.69" cy="792.7" r="1.9"/>
<circle class="s" cx="2602.42" cy="792.7" r="3.1"/>
<circle class="k" cx="2600.94" cy="792.7" r="1.9"/>
<circle class="s" cx="2651.68" cy="792.7" r="3.1"/>
<circle class="k" cx="2650.2" cy="792.7" r="1.9"/>
<circle class="s" cx="2700.94" cy="792.7" r="3.1"/>
<circle class="k" cx="2699.46" cy="792.7" r="1.9"/>
<circle class="s" cx="2750.19" cy="792.7" r="3.1"/>
<circle class="k" cx="2748.71" cy="792.7" r="1.9"/>
<circle class="s" cx="2799.45" cy="792.7" r="3.1"/>
<circle class="k" cx="2797.97" cy="792.7" r="1.9"/>
<circle class="s" cx="2848.71" cy="792.7" r="3.1"/>
<circle class="k" cx="2847.23" cy="792.7" r="1.9"/>
<circle class="s" cx="2897.96" cy="792.7" r="3.1"/>
<circle class="k" cx="2896.48" cy="792.7" r="1.9"/>
<circle class="s" cx="2947.22" cy="792.7" r="3.1"/>
<circle class="k" cx="2945.74" cy="792.7" r="1.9"/>
<circle class="s" cx="2996.47" cy="792.7" r="3.1"/>
<circle class="k" cx="2994.99" cy="792.7" r="1.9"/>
<circle class="s" cx="3045.73" cy="792.7" r="3.1"/>
<circle class="k" cx="3044.25" cy="792.7" r="1.9"/>
<circle class="s" cx="3094.99" cy="792.7" r="3.1"/>
<circle class="k" cx="3093.51" cy="792.7" r="1.9"/>
<circle class="s" cx="3144.24" cy="792.7" r="3.1"/>
<circle class="k" cx="3142.76" cy="792.7" r="1.9"/>
<circle class="s" cx="3193.5" cy="792.7" r="3.1"/>
<circle class="k" cx="3192.02" cy="792.7" r="1.9"/>
<circle class="s" cx="484.4" cy="849.6" r="3.1"/>
<circle class="k" cx="482.92" cy="849.6" r="1.9"/>
<circle class="s" cx="533.66" cy="849.6" r="3.1"/>
<circle class="k" cx="532.18" cy="849.6" r="1.9"/>
<circle class="s" cx="582.91" cy="849.6" r="3.1"/>
<circle class="k" cx="581.43" cy="849.6" r="1.9"/>
<circle class="s" cx="632.17" cy="849.6" r="3.1"/>
<circle class="k" cx="630.69" cy="849.6" r="1.9"/>
<circle class="s" cx="681.43" cy="849.6" r="3.1"/>
<circle class="k" cx="679.95" cy="849.6" r="1.9"/>
<circle class="b" cx="730.68" cy="849.6" r="23.7"/>
<circle class="k" cx="706.98" cy="849.6" r="1.6"/>
<circle class="b" cx="779.94" cy="849.6" r="23.7"/>
<circle class="k" cx="756.24" cy="849.6" r="1.6"/>
<circle class="b" cx="829.19" cy="849.6" r="23.7"/>
<circle class="k" cx="805.49" cy="849.6" r="1.6"/>
<circle class="b" cx="878.45" cy="849.6" r="23.7"/>
<circle class="k" cx="854.75" cy="849.6" r="1.6"/>
<circle class="s" cx="927.71" cy="849.6" r="3.1"/>
<circle class="k" cx="926.23" cy="849.6" r="1.9"/>
<circle class="b" cx="976.96" cy="849.6" r="23.7"/>
<circle class="k" cx="953.26" cy="849.6" r="1.6"/>
<circle class="b" cx="1026.22" cy="849.6" r="23.7"/>
<circle class="k" cx="1002.52" cy="849.6" r="1.6"/>
<circle class="s" cx="1075.48" cy="849.6" r="3.1"/>
<circle class="k" cx="1074" cy="849.6" r="1.9"/>
<circle class="s" cx="1124.73" cy="849.6" r="3.1"/>
<circle class="k" cx="1123.25" cy="849.6" r="1.9"/>
<circle class="b" cx="1173.99" cy="849.6" r="23.7"/>
<circle class="k" cx="1150.29" cy="849.6" r="1.6"/>
<circle class="b" cx="1223.25" cy="849.6" r="23.7"/>
<circle class="k" cx="1199.55" cy="849.6" r="1.6"/>
<circle class="s" cx="1272.5" cy="849.6" r="3.1"/>
<circle class="k" cx="1271.02" cy="849.6" r="1.9"/>
<circle class="s" cx="1321.76" cy="849.6" r="3.1"/>
<circle class="k" cx="1320.28" cy="849.6" r="1.9"/>
<circle class="b" cx="1371.01" cy="849.6" r="23.7"/>
<circle class="k" cx="1347.31" cy="849.6" r="1.6"/>
<circle class="b" cx="1420.27" cy="849.6" r="23.7"/>
<circle class="k" cx="1396.57" cy="849.6" r="1.6"/>
<circle class="s" cx="1469.53" cy="849.6" r="3.1"/>
<circle class="k" cx="1468.05" cy="849.6" r="1.9"/>
<circle class="s" cx="1518.78" cy="849.6" r="3.1"/>
<circle class="k" cx="1517.3" cy="849.6" r="1.9"/>
<circle class="s" cx="1568.04" cy="849.6" r="3.1"/>
<circle class="k" cx="1566.56" cy="849.6" r="1.9"/>
<circle class="s" cx="1617.3" cy="849.6" r="3.1"/>
<circle class="k" cx="1615.82" cy="849.6" r="1.9"/>
<circle class="s" cx="1666.55" cy="849.6" r="3.1"/>
<circle class="k" cx="1665.07" cy="849.6" r="1.9"/>
<circle class="s" cx="1715.81" cy="849.6" r="3.1"/>
<circle class="k" cx="1714.33" cy="849.6" r="1.9"/>
<circle class="s" cx="1765.07" cy="849.6" r="3.1"/>
<circle class="k" cx="1763.59" cy="849.6" r="1.9"/>
<circle class="b" cx="1814.32" cy="849.6" r="23.7"/>
<circle class="k" cx="1790.62" cy="849.6" r="1.6"/>
<circle class="b" cx="1863.58" cy="849.6" r="23.7"/>
<circle class="k" cx="1839.88" cy="849.6" r="1.6"/>
<circle class="b" cx="1912.83" cy="849.6" r="23.7"/>
<circle class="k" cx="1889.13" cy="849.6" r="1.6"/>
<circle class="s" cx="1962.09" cy="849.6" r="3.1"/>
<circle class="k" cx="1960.61" cy="849.6" r="1.9"/>
<circle class="s" cx="2011.35" cy="849.6" r="3.1"/>
<circle class="k" cx="2009.87" cy="849.6" r="1.9"/>
<circle class="s" cx="2060.6" cy="849.6" r="3.1"/>
<circle class="k" cx="2059.12" cy="849.6" r="1.9"/>
<circle class="s" cx="2109.86" cy="849.6" r="3.1"/>
<circle class="k" cx="2108.38" cy="849.6" r="1.9"/>
<circle class="s" cx="2159.12" cy="849.6" r="3.1"/>
<circle class="k" cx="2157.64" cy="849.6" r="1.9"/>
<circle class="s" cx="2208.37" cy="849.6" r="3.1"/>
<circle class="k" cx="2206.89" cy="849.6" r="1.9"/>
<circle class="b" cx="2257.63" cy="849.6" r="23.7"/>
<circle class="k" cx="2233.93" cy="849.6" r="1.6"/>
<circle class="b" cx="2306.89" cy="849.6" r="23.7"/>
<circle class="k" cx="2283.19" cy="849.6" r="1.6"/>
<circle class="s" cx="2356.14" cy="849.6" r="3.1"/>
<circle class="k" cx="2354.66" cy="849.6" r="1.9"/>
<circle class="s" cx="2405.4" cy="849.6" r="3.1"/>
<circle class="k" cx="2403.92" cy="849.6" r="1.9"/>
<circle class="s" cx="2454.65" cy="849.6" r="3.1"/>
<circle class="k" cx="2453.17" cy="849.6" r="1.9"/>
<circle class="s" cx="2503.91" cy="849.6" r="3.1"/>
<circle class="k" cx="2502.43" cy="849.6" r="1.9"/>
<circle class="s" cx="2553.17" cy="849.6" r="3.1"/>
<circle class="k" cx="2551.69" cy="849.6" r="1.9"/>
<circle class="s" cx="2602.42" cy="849.6" r="3.1"/>
<circle class="k" cx="2600.94" cy="849.6" r="1.9"/>
<circle class="s" cx="2651.68" cy="849.6" r="3.1"/>
<circle class="k" cx="2650.2" cy="849.6" r="1.9"/>
<circle class="s" cx="2700.94" cy="849.6" r="3.1"/>
<circle class="k" cx="2699.46" cy="849.6" r="1.9"/>
<circle class="s" cx="2750.19" cy="849.6" r="3.1"/>
<circle class="k" cx="2748.71" cy="849.6" r="1.9"/>
<circle class="s" cx="2799.45" cy="849.6" r="3.1"/>
<circle class="k" cx="2797.97" cy="849.6" r="1.9"/>
<circle class="s" cx="2848.71" cy="849.6" r="3.1"/>
<circle class="k" cx="2847.23" cy="849.6" r="1.9"/>
<circle class="b" cx="2897.96" cy="849.6" r="23.7"/>
<circle class="k" cx="2874.26" cy="849.6" r="1.6"/>
<circle class="b" cx="2947.22" cy="849.6" r="23.7"/>
<circle class="k" cx="2923.52" cy="849.6" r="1.6"/>
<circle class="s" cx="2996.47" cy="849.6" r="3.1"/>
<circle class="k" cx="2994.99" cy="849.6" r="1.9"/>
<circle class="s" cx="3045.73" cy="849.6" r="3.1"/>
<circle class="k" cx="3044.25" cy="849.6" r="1.9"/>
<circle class="s" cx="3094.99" cy="849.6" r="3.1"/>
<circle class="k" cx="3093.51" cy="849.6" r="1.9"/>
<circle class="s" cx="3144.24" cy="849.6" r="3.1"/>
<circle class="k" cx="3142.76" cy="849.6" r="1.9"/>
<circle class="s" cx="3193.5" cy="849.6" r="3.1"/>
<circle class="k" cx="3192.02" cy="849.6" r="1.9"/>
<circle class="s" cx="484.4" cy="906.5" r="3.1"/>
<circle class="k" cx="482.92" cy="906.5" r="1.9"/>
<circle class="s" cx="533.66" cy="906.5" r="3.1"/>
<circle class="k" cx="532.18" cy="906.5" r="1.9"/>
<circle class="s" cx="582.91" cy="906.5" r="3.1"/>
<circle class="k" cx="581.43" cy="906.5" r="1.9"/>
<circle class="s" cx="632.17" cy="906.5" r="3.1"/>
<circle class="k" cx="630.69" cy="906.5" r="1.9"/>
<circle class="s" cx="681.43" cy="906.5" r="3.1"/>
<circle class="k" cx="679.95" cy="906.5" r="1.9"/>
<circle class="b" cx="730.68" cy="906.5" r="23.7"/>
<circle class="k" cx="706.98" cy="906.5" r="1.6"/>
<circle class="b" cx="779.94" cy="906.5" r="23.7"/>
<circle class="k" cx="756.24" cy="906.5" r="1.6"/>
<circle class="b" cx="829.19" cy="906.5" r="23.7"/>
<circle class="k" cx="805.49" cy="906.5" r="1.6"/>
<circle class="b" cx="878.45" cy="906.5" r="23.7"/>
<circle class="k" cx="854.75" cy="906.5" r="1.6"/>
<circle class="s" cx="927.71" cy="906.5" r="3.1"/>
<circle class="k" cx="926.23" cy="906.5" r="1.9"/>
<circle class="b" cx="976.96" cy="906.5" r="23.7"/>
<circle class="k" cx="953.26" cy="906.5" r="1.6"/>
<circle class="b" cx="1026.22" cy="906.5" r="23.7"/>
<circle class="k" cx="1002.52" cy="906.5" r="1.6"/>
<circle class="b" cx="1075.48" cy="906.5" r="23.7"/>
<circle class="k" cx="1051.78" cy="906.5" r="1.6"/>
<circle class="b" cx="1124.73" cy="906.5" r="23.7"/>
<circle class="k" cx="1101.03" cy="906.5" r="1.6"/>
<circle class="b" cx="1173.99" cy="906.5" r="23.7"/>
<circle class="k" cx="1150.29" cy="906.5" r="1.6"/>
<circle class="b" cx="1223.25" cy="906.5" r="23.7"/>
<circle class="k" cx="1199.55" cy="906.5" r="1.6"/>
<circle class="b" cx="1272.5" cy="906.5" r="23.7"/>
<circle class="k" cx="1248.8" cy="906.5" r="1.6"/>
<circle class="b" cx="1321.76" cy="906.5" r="23.7"/>
<circle class="k" cx="1298.06" cy="906.5" r="1.6"/>
<circle class="b" cx="1371.01" cy="906.5" r="23.7"/>
<circle class="k" cx="1347.31" cy="906.5" r="1.6"/>
<circle class="b" cx="1420.27" cy="906.5" r="23.7"/>
<circle class="k" cx="1396.57" cy="906.5" r="1.6"/>
<circle class="b" cx="1469.53" cy="906.5" r="23.7"/>
<circle class="k" cx="1445.83" cy="906.5" r="1.6"/>
<circle class="b" cx="1518.78" cy="906.5" r="23.7"/>
<circle class="k" cx="1495.08" cy="906.5" r="1.6"/>
<circle class="s" cx="1568.04" cy="906.5" r="3.1"/>
<circle class="k" cx="1566.56" cy="906.5" r="1.9"/>
<circle class="b" cx="1617.3" cy="906.5" r="23.7"/>
<circle class="k" cx="1593.6" cy="906.5" r="1.6"/>
<circle class="b" cx="1666.55" cy="906.5" r="23.7"/>
<circle class="k" cx="1642.85" cy="906.5" r="1.6"/>
<circle class="b" cx="1715.81" cy="906.5" r="23.7"/>
<circle class="k" cx="1692.11" cy="906.5" r="1.6"/>
<circle class="b" cx="1765.07" cy="906.5" r="23.7"/>
<circle class="k" cx="1741.37" cy="906.5" r="1.6"/>
<circle class="b" cx="1814.32" cy="906.5" r="23.7"/>
<circle class="k" cx="1790.62" cy="906.5" r="1.6"/>
<circle class="b" cx="1863.58" cy="906.5" r="23.7"/>
<circle class="k" cx="1839.88" cy="906.5" r="1.6"/>
<circle class="b" cx="1912.83" cy="906.5" r="23.7"/>
<circle class="k" cx="1889.13" cy="906.5" r="1.6"/>
<circle class="s" cx="1962.09" cy="906.5" r="3.1"/>
<circle class="k" cx="1960.61" cy="906.5" r="1.9"/>
<circle class="s" cx="2011.35" cy="906.5" r="3.1"/>
<circle class="k" cx="2009.87" cy="906.5" r="1.9"/>
<circle class="s" cx="2060.6" cy="906.5" r="3.1"/>
<circle class="k" cx="2059.12" cy="906.5" r="1.9"/>
<circle class="s" cx="2109.86" cy="906.5" r="3.1"/>
<circle class="k" cx="2108.38" cy="906.5" r="1.9"/>
<circle class="s" cx="2159.12" cy="906.5" r="3.1"/>
<circle class="k" cx="2157.64" cy="906.5" r="1.9"/>
<circle class="s" cx="2208.37" cy="906.5" r="3.1"/>
<circle class="k" cx="2206.89" cy="906.5" r="1.9"/>
<circle class="b" cx="2257.63" cy="906.5" r="23.7"/>
<circle class="k" cx="2233.93" cy="906.5" r="1.6"/>
<circle class="b" cx="2306.89" cy="906.5" r="23.7"/>
<circle class="k" cx="2283.19" cy="906.5" r="1.6"/>
<circle class="b" cx="2356.14" cy="906.5" r="23.7"/>
<circle class="k" cx="2332.44" cy="906.5" r="1.6"/>
<circle class="b" cx="2405.4" cy="906.5" r="23.7"/>
<circle class="k" cx="2381.7" cy="906.5" r="1.6"/>
<circle class="b" cx="2454.65" cy="906.5" r="23.7"/>
<circle class="k" cx="2430.95" cy="906.5" r="1.6"/>
<circle class="b" cx="2503.91" cy="906.5" r="23.7"/>
<circle class="k" cx="2480.21" cy="906.5" r="1.6"/>
<circle class="b" cx="2553.17" cy="906.5" r="23.7"/>
<circle class="k" cx="2529.47" cy="906.5" r="1.6"/>
<circle class="s" cx="2602.42" cy="906.5" r="3.1"/>
<circle class="k" cx="2600.94" cy="906.5" r="1.9"/>
<circle class="s" cx="2651.68" cy="906.5" r="3.1"/>
<circle class="k" cx="2650.2" cy="906.5" r="1.9"/>
<circle class="s" cx="2700.94" cy="906.5" r="3.1"/>
<circle class="k" cx="2699.46" cy="906.5" r="1.9"/>
<circle class="s" cx="2750.19" cy="906.5" r="3.1"/>
<circle class="k" cx="2748.71" cy="906.5" r="1.9"/>
<circle class="s" cx="2799.45" cy="906.5" r="3.1"/>
<circle class="k" cx="2797.97" cy="906.5" r="1.9"/>
<circle class="s" cx="2848.71" cy="906.5" r="3.1"/>
<circle class="k" cx="2847.23" cy="906.5" r="1.9"/>
<circle class="b" cx="2897.96" cy="906.5" r="23.7"/>
<circle class="k" cx="2874.26" cy="906.5" r="1.6"/>
<circle class="b" cx="2947.22" cy="906.5" r="23.7"/>
<circle class="k" cx="2923.52" cy="906.5" r="1.6"/>
<circle class="s" cx="2996.47" cy="906.5" r="3.1"/>
<circle class="k" cx="2994.99" cy="906.5" r="1.9"/>
<circle class="s" cx="3045.73" cy="906.5" r="3.1"/>
<circle class="k" cx="3044.25" cy="906.5" r="1.9"/>
<circle class="s" cx="3094.99" cy="906.5" r="3.1"/>
<circle class="k" cx="3093.51" cy="906.5" r="1.9"/>
<circle class="s" cx="3144.24" cy="906.5" r="3.1"/>
<circle class="k" cx="3142.76" cy="906.5" r="1.9"/>
<circle class="s" cx="3193.5" cy="906.5" r="3.1"/>
<circle class="k" cx="3192.02" cy="906.5" r="1.9"/>
<circle class="s" cx="484.4" cy="963.4" r="3.1"/>
<circle class="k" cx="482.92" cy="963.4" r="1.9"/>
<circle class="s" cx="533.66" cy="963.4" r="3.1"/>
<circle class="k" cx="532.18" cy="963.4" r="1.9"/>
<circle class="s" cx="582.91" cy="963.4" r="3.1"/>
<circle class="k" cx="581.43" cy="963.4" r="1.9"/>
<circle class="s" cx="632.17" cy="963.4" r="3.1"/>
<circle class="k" cx="630.69" cy="963.4" r="1.9"/>
<circle class="s" cx="681.43" cy="963.4" r="3.1"/>
<circle class="k" cx="679.95" cy="963.4" r="1.9"/>
<circle class="b" cx="730.68" cy="963.4" r="23.7"/>
<circle class="k" cx="706.98" cy="963.4" r="1.6"/>
<circle class="b" cx="779.94" cy="963.4" r="23.7"/>
<circle class="k" cx="756.24" cy="963.4" r="1.6"/>
<circle class="b" cx="829.19" cy="963.4" r="23.7"/>
<circle class="k" cx="805.49" cy="963.4" r="1.6"/>
<circle class="b" cx="878.45" cy="963.4" r="23.7"/>
<circle class="k" cx="854.75" cy="963.4" r="1.6"/>
<circle class="s" cx="927.71" cy="963.4" r="3.1"/>
<circle class="k" cx="926.23" cy="963.4" r="1.9"/>
<circle class="b" cx="976.96" cy="963.4" r="23.7"/>
<circle class="k" cx="953.26" cy="963.4" r="1.6"/>
<circle class="b" cx="1026.22" cy="963.4" r="23.7"/>
<circle class="k" cx="1002.52" cy="963.4" r="1.6"/>
<circle class="b" cx="1075.48" cy="963.4" r="23.7"/>
<circle class="k" cx="1051.78" cy="963.4" r="1.6"/>
<circle class="b" cx="1124.73" cy="963.4" r="23.7"/>
<circle class="k" cx="1101.03" cy="963.4" r="1.6"/>
<circle class="b" cx="1173.99" cy="963.4" r="23.7"/>
<circle class="k" cx="1150.29" cy="963.4" r="1.6"/>
<circle class="b" cx="1223.25" cy="963.4" r="23.7"/>
<circle class="k" cx="1199.55" cy="963.4" r="1.6"/>
<circle class="b" cx="1272.5" cy="963.4" r="23.7"/>
<circle class="k" cx="1248.8" cy="963.4" r="1.6"/>
<circle class="b" cx="1321.76" cy="963.4" r="23.7"/>
<circle class="k" cx="1298.06" cy="963.4" r="1.6"/>
<circle class="b" cx="1371.01" cy="963.4" r="23.7"/>
<circle class="k" cx="1347.31" cy="963.4" r="1.6"/>
<circle class="b" cx="1420.27" cy="963.4" r="23.7"/>
<circle class="k" cx="1396.57" cy="963.4" r="1.6"/>
<circle class="s" cx="1469.53" cy="963.4" r="3.1"/>
<circle class="k" cx="1468.05" cy="963.4" r="1.9"/>
<circle class="s" cx="1518.78" cy="963.4" r="3.1"/>
<circle class="k" cx="1517.3" cy="963.4" r="1.9"/>
<circle class="b" cx="1568.04" cy="963.4" r="23.7"/>
<circle class="k" cx="1544.34" cy="963.4" r="1.6"/>
<circle class="b" cx="1617.3" cy="963.4" r="23.7"/>
<circle class="k" cx="1593.6" cy="963.4" r="1.6"/>
<circle class="b" cx="1666.55" cy="963.4" r="23.7"/>
<circle class="k" cx="1642.85" cy="963.4" r="1.6"/>
<circle class="b" cx="1715.81" cy="963.4" r="23.7"/>
<circle class="k" cx="1692.11" cy="963.4" r="1.6"/>
<circle class="b" cx="1765.07" cy="963.4" r="23.7"/>
<circle class="k" cx="1741.37" cy="963.4" r="1.6"/>
<circle class="b" cx="1814.32" cy="963.4" r="23.7"/>
<circle class="k" cx="1790.62" cy="963.4" r="1.6"/>
<circle class="b" cx="1863.58" cy="963.4" r="23.7"/>
<circle class="k" cx="1839.88" cy="963.4" r="1.6"/>
<circle class="b" cx="1912.83" cy="963.4" r="23.7"/>
<circle class="k" cx="1889.13" cy="963.4" r="1.6"/>
<circle class="s" cx="1962.09" cy="963.4" r="3.1"/>
<circle class="k" cx="1960.61" cy="963.4" r="1.9"/>
<circle class="s" cx="2011.35" cy="963.4" r="3.1"/>
<circle class="k" cx="2009.87" cy="963.4" r="1.9"/>
<circle class="s" cx="2060.6" cy="963.4" r="3.1"/>
<circle class="k" cx="2059.12" cy="963.4" r="1.9"/>
<circle class="s" cx="2109.86" cy="963.4" r="3.1"/>
<circle class="k" cx="2108.38" cy="963.4" r="1.9"/>
<circle class="s" cx="2159.12" cy="963.4" r="3.1"/>
<circle class="k" cx="2157.64" cy="963.4" r="1.9"/>
<circle class="s" cx="2208.37" cy="963.4" r="3.1"/>
<circle class="k" cx="2206.89" cy="963.4" r="1.9"/>
<circle class="b" cx="2257.63" cy="963.4" r="23.7"/>
<circle class="k" cx="2233.93" cy="963.4" r="1.6"/>
<circle class="b" cx="2306.89" cy="963.4" r="23.7"/>
<circle class="k" cx="2283.19" cy="963.4" r="1.6"/>
<circle class="b" cx="2356.14" cy="963.4" r="23.7"/>
<circle class="k" cx="2332.44" cy="963.4" r="1.6"/>
<circle class="b" cx="2405.4" cy="963.4" r="23.7"/>
<circle class="k" cx="2381.7" cy="963.4" r="1.6"/>
<circle class="b" cx="2454.65" cy="963.4" r="23.7"/>
<circle class="k" cx="2430.95" cy="963.4" r="1.6"/>
<circle class="b" cx="2503.91" cy="963.4" r="23.7"/>
<circle class="k" cx="2480.21" cy="963.4" r="1.6"/>
<circle class="s" cx="2553.17" cy="963.4" r="3.1"/>
<circle class="k" cx="2551.69" cy="963.4" r="1.9"/>
<circle class="s" cx="2602.42" cy="963.4" r="3.1"/>
<circle class="k" cx="2600.94" cy="963.4" r="1.9"/>
<circle class="s" cx="2651.68" cy="963.4" r="3.1"/>
<circle class="k" cx="2650.2" cy="963.4" r="1.9"/>
<circle class="s" cx="2700.94" cy="963.4" r="3.1"/>
<circle class="k" cx="2699.46" cy="963.4" r="1.9"/>
<circle class="s" cx="2750.19" cy="963.4" r="3.1"/>
<circle class="k" cx="2748.71" cy="963.4" r="1.9"/>
<circle class="s" cx="2799.45" cy="963.4" r="3.1"/>
<circle class="k" cx="2797.97" cy="963.4" r="1.9"/>
<circle class="s" cx="2848.71" cy="963.4" r="3.1"/>
<circle class="k" cx="2847.23" cy="963.4" r="1.9"/>
<circle class="b" cx="2897.96" cy="963.4" r="23.7"/>
<circle class="k" cx="2874.26" cy="963.4" r="1.6"/>
<circle class="b" cx="2947.22" cy="963.4" r="23.7"/>
<circle class="k" cx="2923.52" cy="963.4" r="1.6"/>
<circle class="s" cx="2996.47" cy="963.4" r="3.1"/>
<circle class="k" cx="2994.99" cy="963.4" r="1.9"/>
<circle class="s" cx="3045.73" cy="963.4" r="3.1"/>
<circle class="k" cx="3044.25" cy="963.4" r="1.9"/>
<circle class="s" cx="3094.99" cy="963.4" r="3.1"/>
<circle class="k" cx="3093.51" cy="963.4" r="1.9"/>
<circle class="s" cx="3144.24" cy="963.4" r="3.1"/>
<circle class="k" cx="3142.76" cy="963.4" r="1.9"/>
<circle class="s" cx="3193.5" cy="963.4" r="3.1"/>
<circle class="k" cx="3192.02" cy="963.4" r="1.9"/>
<circle class="s" cx="484.4" cy="1020.3" r="3.1"/>
<circle class="k" cx="482.92" cy="1020.3" r="1.9"/>
<circle class="s" cx="533.66" cy="1020.3" r="3.1"/>
<circle class="k" cx="532.18" cy="1020.3" r="1.9"/>
<circle class="s" cx="582.91" cy="1020.3" r="3.1"/>
<circle class="k" cx="581.43" cy="1020.3" r="1.9"/>
<circle class="s" cx="632.17" cy="1020.3" r="3.1"/>
<circle class="k" cx="630.69" cy="1020.3" r="1.9"/>
<circle class="s" cx="681.43" cy="1020.3" r="3.1"/>
<circle class="k" cx="679.95" cy="1020.3" r="1.9"/>
<circle class="b" cx="730.68" cy="1020.3" r="23.7"/>
<circle class="k" cx="706.98" cy="1020.3" r="1.6"/>
<circle class="b" cx="779.94" cy="1020.3" r="23.7"/>
<circle class="k" cx="756.24" cy="1020.3" r="1.6"/>
<circle class="b" cx="829.19" cy="1020.3" r="23.7"/>
<circle class="k" cx="805.49" cy="1020.3" r="1.6"/>
<circle class="b" cx="878.45" cy="1020.3" r="23.7"/>
<circle class="k" cx="854.75" cy="1020.3" r="1.6"/>
<circle class="s" cx="927.71" cy="1020.3" r="3.1"/>
<circle class="k" cx="926.23" cy="1020.3" r="1.9"/>
<circle class="b" cx="976.96" cy="1020.3" r="23.7"/>
<circle class="k" cx="953.26" cy="1020.3" r="1.6"/>
<circle class="b" cx="1026.22" cy="1020.3" r="23.7"/>
<circle class="k" cx="1002.52" cy="1020.3" r="1.6"/>
<circle class="b" cx="1075.48" cy="1020.3" r="23.7"/>
<circle class="k" cx="1051.78" cy="1020.3" r="1.6"/>
<circle class="b" cx="1124.73" cy="1020.3" r="23.7"/>
<circle class="k" cx="1101.03" cy="1020.3" r="1.6"/>
<circle class="s" cx="1173.99" cy="1020.3" r="3.1"/>
<circle class="k" cx="1172.51" cy="1020.3" r="1.9"/>
<circle class="s" cx="1223.25" cy="1020.3" r="3.1"/>
<circle class="k" cx="1221.77" cy="1020.3" r="1.9"/>
<circle class="b" cx="1272.5" cy="1020.3" r="23.7"/>
<circle class="k" cx="1248.8" cy="1020.3" r="1.6"/>
<circle class="s" cx="1321.76" cy="1020.3" r="3.1"/>
<circle class="k" cx="1320.28" cy="1020.3" r="1.9"/>
<circle class="b" cx="1371.01" cy="1020.3" r="23.7"/>
<circle class="k" cx="1347.31" cy="1020.3" r="1.6"/>
<circle class="b" cx="1420.27" cy="1020.3" r="23.7"/>
<circle class="k" cx="1396.57" cy="1020.3" r="1.6"/>
<circle class="s" cx="1469.53" cy="1020.3" r="3.1"/>
<circle class="k" cx="1468.05" cy="1020.3" r="1.9"/>
<circle class="s" cx="1518.78" cy="1020.3" r="3.1"/>
<circle class="k" cx="1517.3" cy="1020.3" r="1.9"/>
<circle class="s" cx="1568.04" cy="1020.3" r="3.1"/>
<circle class="k" cx="1566.56" cy="1020.3" r="1.9"/>
<circle class="b" cx="1617.3" cy="1020.3" r="23.7"/>
<circle class="k" cx="1593.6" cy="1020.3" r="1.6"/>
<circle class="s" cx="1666.55" cy="1020.3" r="3.1"/>
<circle class="k" cx="1665.07" cy="1020.3" r="1.9"/>
<circle class="s" cx="1715.81" cy="1020.3" r="3.1"/>
<circle class="k" cx="1714.33" cy="1020.3" r="1.9"/>
<circle class="b" cx="1765.07" cy="1020.3" r="23.7"/>
<circle class="k" cx="1741.37" cy="1020.3" r="1.6"/>
<circle class="b" cx="1814.32" cy="1020.3" r="23.7"/>
<circle class="k" cx="1790.62" cy="1020.3" r="1.6"/>
<circle class="b" cx="1863.58" cy="1020.3" r="23.7"/>
<circle class="k" cx="1839.88" cy="1020.3" r="1.6"/>
<circle class="b" cx="1912.83" cy="1020.3" r="23.7"/>
<circle class="k" cx="1889.13" cy="1020.3" r="1.6"/>
<circle class="s" cx="1962.09" cy="1020.3" r="3.1"/>
<circle class="k" cx="1960.61" cy="1020.3" r="1.9"/>
<circle class="s" cx="2011.35" cy="1020.3" r="3.1"/>
<circle class="k" cx="2009.87" cy="1020.3" r="1.9"/>
<circle class="s" cx="2060.6" cy="1020.3" r="3.1"/>
<circle class="k" cx="2059.12" cy="1020.3" r="1.9"/>
<circle class="s" cx="2109.86" cy="1020.3" r="3.1"/>
<circle class="k" cx="2108.38" cy="1020.3" r="1.9"/>
<circle class="s" cx="2159.12" cy="1020.3" r="3.1"/>
<circle class="k" cx="2157.64" cy="1020.3" r="1.9"/>
<circle class="s" cx="2208.37" cy="1020.3" r="3.1"/>
<circle class="k" cx="2206.89" cy="1020.3" r="1.9"/>
<circle class="s" cx="2257.63" cy="1020.3" r="3.1"/>
<circle class="k" cx="2256.15" cy="1020.3" r="1.9"/>
<circle class="b" cx="2306.89" cy="1020.3" r="23.7"/>
<circle class="k" cx="2283.19" cy="1020.3" r="1.6"/>
<circle class="b" cx="2356.14" cy="1020.3" r="23.7"/>
<circle class="k" cx="2332.44" cy="1020.3" r="1.6"/>
<circle class="b" cx="2405.4" cy="1020.3" r="23.7"/>
<circle class="k" cx="2381.7" cy="1020.3" r="1.6"/>
<circle class="s" cx="2454.65" cy="1020.3" r="3.1"/>
<circle class="k" cx="2453.17" cy="1020.3" r="1.9"/>
<circle class="s" cx="2503.91" cy="1020.3" r="3.1"/>
<circle class="k" cx="2502.43" cy="1020.3" r="1.9"/>
<circle class="s" cx="2553.17" cy="1020.3" r="3.1"/>
<circle class="k" cx="2551.69" cy="1020.3" r="1.9"/>
<circle class="s" cx="2602.42" cy="1020.3" r="3.1"/>
<circle class="k" cx="2600.94" cy="1020.3" r="1.9"/>
<circle class="s" cx="2651.68" cy="1020.3" r="3.1"/>
<circle class="k" cx="2650.2" cy="1020.3" r="1.9"/>
<circle class="s" cx="2700.94" cy="1020.3" r="3.1"/>
<circle class="k" cx="2699.46" cy="1020.3" r="1.9"/>
<circle class="s" cx="2750.19" cy="1020.3" r="3.1"/>
<circle class="k" cx="2748.71" cy="1020.3" r="1.9"/>
<circle class="s" cx="2799.45" cy="1020.3" r="3.1"/>
<circle class="k" cx="2797.97" cy="1020.3" r="1.9"/>
<circle class="s" cx="2848.71" cy="1020.3" r="3.1"/>
<circle class="k" cx="2847.23" cy="1020.3" r="1.9"/>
<circle class="b" cx="2897.96" cy="1020.3" r="23.7"/>
<circle class="k" cx="2874.26" cy="1020.3" r="1.6"/>
<circle class="b" cx="2947.22" cy="1020.3" r="23.7"/>
<circle class="k" cx="2923.52" cy="1020.3" r="1.6"/>
<circle class="s" cx="2996.47" cy="1020.3" r="3.1"/>
<circle class="k" cx="2994.99" cy="1020.3" r="1.9"/>
<circle class="s" cx="3045.73" cy="1020.3" r="3.1"/>
<circle class="k" cx="3044.25" cy="1020.3" r="1.9"/>
<circle class="s" cx="3094.99" cy="1020.3" r="3.1"/>
<circle class="k" cx="3093.51" cy="1020.3" r="1.9"/>
<circle class="s" cx="3144.24" cy="1020.3" r="3.1"/>
<circle class="k" cx="3142.76" cy="1020.3" r="1.9"/>
<circle class="s" cx="3193.5" cy="1020.3" r="3.1"/>
<circle class="k" cx="3192.02" cy="1020.3" r="1.9"/>
</g>
<rect x="435.3" y="132.75" width="2787.4" height="921.85" fill="none" stroke="#000" stroke-width="4.5" stroke-linejoin="round"/>
<g class="tk">
<path d="M423.84 166.8H435.3M423.84 223.7H435.3M423.84 280.6H435.3M423.84 337.5H435.3M423.84 394.4H435.3M423.84 451.3H435.3M423.84 508.2H435.3M423.84 565.1H435.3M423.84 622H435.3M423.84 678.9H435.3M423.84 735.8H435.3M423.84 792.7H435.3M423.84 849.6H435.3M423.84 906.5H435.3M423.84 963.4H435.3M423.84 1020.3H435.3M484.4 1054.6V1066.06M533.66 1054.6V1066.06M582.91 1054.6V1066.06M632.17 1054.6V1066.06M681.43 1054.6V1066.06M730.68 1054.6V1066.06M779.94 1054.6V1066.06M829.19 1054.6V1066.06M878.45 1054.6V1066.06M927.71 1054.6V1066.06M976.96 1054.6V1066.06M1026.22 1054.6V1066.06M1075.48 1054.6V1066.06M1124.73 1054.6V1066.06M1173.99 1054.6V1066.06M1223.25 1054.6V1066.06M1272.5 1054.6V1066.06M1321.76 1054.6V1066.06M1371.01 1054.6V1066.06M1420.27 1054.6V1066.06M1469.53 1054.6V1066.06M1518.78 1054.6V1066.06M1568.04 1054.6V1066.06M1617.3 1054.6V1066.06M1666.55 1054.6V1066.06M1715.81 1054.6V1066.06M1765.07 1054.6V1066.06M1814.32 1054.6V1066.06M1863.58 1054.6V1066.06M1912.83 1054.6V1066.06M1962.09 1054.6V1066.06M2011.35 1054.6V1066.06M2060.6 1054.6V1066.06M2109.86 1054.6V1066.06M2159.12 1054.6V1066.06M2208.37 1054.6V1066.06M2257.63 1054.6V1066.06M2306.89 1054.6V1066.06M2356.14 1054.6V1066.06M2405.4 1054.6V1066.06M2454.65 1054.6V1066.06M2503.91 1054.6V1066.06M2553.17 1054.6V1066.06M2602.42 1054.6V1066.06M2651.68 1054.6V1066.06M2700.94 1054.6V1066.06M2750.19 1054.6V1066.06M2799.45 1054.6V1066.06M2848.71 1054.6V1066.06M2897.96 1054.6V1066.06M2947.22 1054.6V1066.06M2996.47 1054.6V1066.06M3045.73 1054.6V1066.06M3094.99 1054.6V1066.06M3144.24 1054.6V1066.06M3193.5 1054.6V1066.06"/>
</g>
<g class="yl">
<text x="414.7" y="180.26">Progenitors</text>
<text x="414.7" y="237.16">Plasma cells</text>
<text x="414.7" y="294.06">Physiology B cells</text>
<text x="414.7" y="350.96">pDCs</text>
<text x="414.7" y="407.86">NK cells</text>
<text x="414.7" y="464.76">Neutrophils</text>
<text x="414.7" y="521.66">Mono/Macro</text>
<text x="414.7" y="578.56">Mast cells</text>
<text x="414.7" y="635.46">Malignant cells</text>
<text x="414.7" y="692.36">Fibroblasts</text>
<text x="414.7" y="749.26">Erythrocytes</text>
<text x="414.7" y="806.16">Endothelial cells</text>
<text x="414.7" y="863.06">cDCs</text>
<text x="414.7" y="919.96">CD8+ T cells</text>
<text x="414.7" y="976.86">CD4+ T cells</text>
<text x="414.7" y="1033.76">B cells</text>
</g>
<g class="xl">
<text transform="translate(484.4 1075.2) rotate(-50)" x="0" y="20.94">GSE140440</text>
<text transform="translate(533.66 1075.2) rotate(-50)" x="0" y="20.94">GSE186960</text>
<text transform="translate(582.91 1075.2) rotate(-50)" x="0" y="20.94">GSE138267</text>
<text transform="translate(632.17 1075.2) rotate(-50)" x="0" y="20.94">GSE131984_Pac</text>
<text transform="translate(681.43 1075.2) rotate(-50)" x="0" y="20.94">GSE163836</text>
<text transform="translate(730.68 1075.2) rotate(-50)" x="0" y="20.94">GSE169246_PacBlood_post</text>
<text transform="translate(779.94 1075.2) rotate(-50)" x="0" y="20.94">GSE169246_PacBlood_pre</text>
<text transform="translate(829.19 1075.2) rotate(-50)" x="0" y="20.94">GSE169246_PacTissue_post</text>
<text transform="translate(878.45 1075.2) rotate(-50)" x="0" y="20.94">GSE169246_PacTissue_pre</text>
<text transform="translate(927.71 1075.2) rotate(-50)" x="0" y="20.94">GSE153697</text>
<text transform="translate(976.96 1075.2) rotate(-50)" x="0" y="20.94">GSE169246_PacAteBlood_post</text>
<text transform="translate(1026.22 1075.2) rotate(-50)" x="0" y="20.94">GSE169246_PacAteBlood_pre</text>
<text transform="translate(1075.48 1075.2) rotate(-50)" x="0" y="20.94">GSE169246_PacAteTissue_post</text>
<text transform="translate(1124.73 1075.2) rotate(-50)" x="0" y="20.94">GSE169246_PacAteTissue_pre</text>
<text transform="translate(1173.99 1075.2) rotate(-50)" x="0" y="20.94">GSE197268_Axi<tspan textLength="17.04" lengthAdjust="spacingAndGlyphs" dy="-2.2">-</tspan><tspan dy="2.2">cel_post</tspan></text>
<text transform="translate(1223.25 1075.2) rotate(-50)" x="0" y="20.94">GSE197268_Axi<tspan textLength="17.04" lengthAdjust="spacingAndGlyphs" dy="-2.2">-</tspan><tspan dy="2.2">cel_pre</tspan></text>
<text transform="translate(1272.5 1075.2) rotate(-50)" x="0" y="20.94">GSE164551</text>
<text transform="translate(1321.76 1075.2) rotate(-50)" x="0" y="20.94">PMID34715028_post</text>
<text transform="translate(1371.01 1075.2) rotate(-50)" x="0" y="20.94">GSE212217_post</text>
<text transform="translate(1420.27 1075.2) rotate(-50)" x="0" y="20.94">GSE212217_pre</text>
<text transform="translate(1469.53 1075.2) rotate(-50)" x="0" y="20.94">GSE164237_post</text>
<text transform="translate(1518.78 1075.2) rotate(-50)" x="0" y="20.94">GSE164237_pre</text>
<text transform="translate(1568.04 1075.2) rotate(-50)" x="0" y="20.94">GSE150930</text>
<text transform="translate(1617.3 1075.2) rotate(-50)" x="0" y="20.94">GSE207422_Sin_post</text>
<text transform="translate(1666.55 1075.2) rotate(-50)" x="0" y="20.94">GSE197268_Tisa<tspan textLength="17.04" lengthAdjust="spacingAndGlyphs" dy="-2.2">-</tspan><tspan dy="2.2">cel_post</tspan></text>
<text transform="translate(1715.81 1075.2) rotate(-50)" x="0" y="20.94">GSE197268_Tisa<tspan textLength="17.04" lengthAdjust="spacingAndGlyphs" dy="-2.2">-</tspan><tspan dy="2.2">cel_pre</tspan></text>
<text transform="translate(1765.07 1075.2) rotate(-50)" x="0" y="20.94">GSE207422_Tor_post</text>
<text transform="translate(1814.32 1075.2) rotate(-50)" x="0" y="20.94">GSE189460_pre</text>
<text transform="translate(1863.58 1075.2) rotate(-50)" x="0" y="20.94">GSE161801_PI_post</text>
<text transform="translate(1912.83 1075.2) rotate(-50)" x="0" y="20.94">GSE161801_PI_pre</text>
<text transform="translate(1962.09 1075.2) rotate(-50)" x="0" y="20.94">GSE139386</text>
<text transform="translate(2011.35 1075.2) rotate(-50)" x="0" y="20.94">GSE161195_post</text>
<text transform="translate(2060.6 1075.2) rotate(-50)" x="0" y="20.94">GSE161195_pre</text>
<text transform="translate(2109.86 1075.2) rotate(-50)" x="0" y="20.94">GSE158457</text>
<text transform="translate(2159.12 1075.2) rotate(-50)" x="0" y="20.94">GSE168668</text>
<text transform="translate(2208.37 1075.2) rotate(-50)" x="0" y="20.94">GSE149214</text>
<text transform="translate(2257.63 1075.2) rotate(-50)" x="0" y="20.94">GSE162117_post</text>
<text transform="translate(2306.89 1075.2) rotate(-50)" x="0" y="20.94">GSE162117_pre</text>
<text transform="translate(2356.14 1075.2) rotate(-50)" x="0" y="20.94">GSE199333_post</text>
<text transform="translate(2405.4 1075.2) rotate(-50)" x="0" y="20.94">GSE199333_pre</text>
<text transform="translate(2454.65 1075.2) rotate(-50)" x="0" y="20.94">GSE111014_post</text>
<text transform="translate(2503.91 1075.2) rotate(-50)" x="0" y="20.94">GSE111014_pre</text>
<text transform="translate(2553.17 1075.2) rotate(-50)" x="0" y="20.94">GSE152469</text>
<text transform="translate(2602.42 1075.2) rotate(-50)" x="0" y="20.94">GSE131984_JQ1</text>
<text transform="translate(2651.68 1075.2) rotate(-50)" x="0" y="20.94">GSE131984_JQ1Pac</text>
<text transform="translate(2700.94 1075.2) rotate(-50)" x="0" y="20.94">GSE131984_JQ1Pal</text>
<text transform="translate(2750.19 1075.2) rotate(-50)" x="0" y="20.94">GSE104987</text>
<text transform="translate(2799.45 1075.2) rotate(-50)" x="0" y="20.94">GSE131984_Pal</text>
<text transform="translate(2848.71 1075.2) rotate(-50)" x="0" y="20.94">GSE108397</text>
<text transform="translate(2897.96 1075.2) rotate(-50)" x="0" y="20.94">GSE161801_IMiD_post</text>
<text transform="translate(2947.22 1075.2) rotate(-50)" x="0" y="20.94">GSE161801_IMiD_pre</text>
<text transform="translate(2996.47 1075.2) rotate(-50)" x="0" y="20.94">GSE175716</text>
<text transform="translate(3045.73 1075.2) rotate(-50)" x="0" y="20.94">GSE115251</text>
<text transform="translate(3094.99 1075.2) rotate(-50)" x="0" y="20.94">GSE164897_Vem</text>
<text transform="translate(3144.24 1075.2) rotate(-50)" x="0" y="20.94">GSE164897_VemCob</text>
<text transform="translate(3193.5 1075.2) rotate(-50)" x="0" y="20.94">GSE164897_VemTra</text>
</g>
<g stroke="#000" stroke-width="4.7" fill="none">
<path d="M435.1 1418.7H666.8"/>
<path d="M681.2 1418.7H1602.7"/>
<path d="M1627.3 1418.7H3045.6"/>
</g>
<text class="ser" x="483.6" y="1481.6">Chemotherapy</text>
<text class="ser" x="1183.5" y="1481.6">Immunotherapy</text>
<text class="ser" x="2404.2" y="1481.6">Targeted therapy</text>
<text class="lt" x="3291.2" y="527.3">Expression</text>
<rect x="3291.2" y="554.2" width="72.2" height="144.4" fill="#f2f2f2"/>
<circle cx="3327.3" cy="590.3" r="8.15" fill="#70add5" fill-opacity="1" stroke="#000" stroke-opacity="0.5" stroke-width="3.2"/>
<circle class="k" cx="3319.15" cy="590.3" r="1.6"/>
<text class="ll" x="3386.3" y="604.3">Down</text>
<circle cx="3327.3" cy="662.5" r="8.15" fill="#fff" fill-opacity="0.5" stroke="#000" stroke-opacity="0.5" stroke-width="3.2"/>
<circle class="k" cx="3319.15" cy="662.5" r="1.6"/>
<text class="ll" x="3386.3" y="676.5">None</text>
</svg>
</body></html>
